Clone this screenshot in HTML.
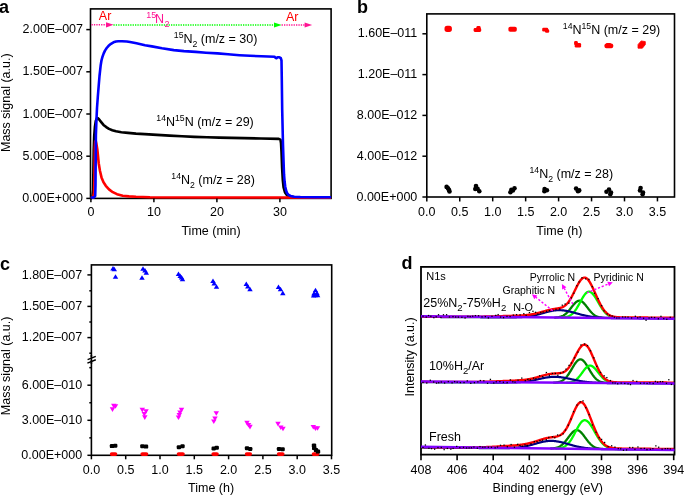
<!DOCTYPE html><html><head><meta charset="utf-8"><style>html,body{margin:0;padding:0;background:#fff;}svg{display:block;will-change:transform}</style></head><body><svg width="685" height="495" viewBox="0 0 685 495" font-family='"Liberation Sans", sans-serif'><text x="-1" y="12.9" font-size="18" text-anchor="start" fill="#000" font-weight="bold" >a</text>
<text x="357" y="12.9" font-size="18" text-anchor="start" fill="#000" font-weight="bold" >b</text>
<text x="-0.1" y="269.5" font-size="18" text-anchor="start" fill="#000" font-weight="bold" >c</text>
<text x="401.4" y="269.4" font-size="18" text-anchor="start" fill="#000" font-weight="bold" >d</text>
<defs><clipPath id="ca"><rect x="90.5" y="8.9" width="240.60000000000002" height="191.0"/></clipPath></defs>
<rect x="90.5" y="8.9" width="240.6" height="189.5" fill="none" stroke="#000" stroke-width="1.6"/>
<g clip-path="url(#ca)">
<path d="M91.2,198 L92.4,197 L93.1,190 L93.4,170 L93.7,150 L94.2,136 L94.9,127 L95.8,121 L96.7,118.6 L97.6,118 L99,119.3 L101.2,122.1 L103.5,124.9 L106.2,127.1 L109,128.9 L112.3,130.2 L116,131.3 L121.4,132.2 L128,132.9 L136,133.6 L144.8,134.1 L157,134.9 L169.6,135.6 L182,136.3 L194.4,136.9 L207,137.3 L219.3,137.6 L231.7,137.9 L244.1,138.1 L261,138.5 L278.8,138.9 L280.4,139.6 L281,143 L281.5,152 L282.1,168 L282.8,180 L283.6,187.5 L285,192.5 L287,195.2 L290,196.6 L295,197.3 L330.5,197.6" fill="none" stroke="#000" stroke-width="2.6" stroke-linejoin="round" stroke-linecap="round" />
<path d="M91.2,198 L93,197.5 L94,193 L94.4,180 L94.6,162 L94.8,148 L95.2,141.5 L95.7,140.8 L96.3,143.2 L97.3,149.1 L98,156 L98.7,163.2 L100,171 L101.5,177.4 L103.5,182.3 L105.8,185.8 L109,189.4 L112.8,192.2 L117,194.2 L122.7,195.7 L129,196.4 L136,196.8 L150,197.2 L200,197.5 L330.5,197.6" fill="none" stroke="#ff0000" stroke-width="2.6" stroke-linejoin="round" stroke-linecap="round" />
<path d="M91.2,197.6 L94,197.4 L95.2,196 L95.5,185 L95.7,160 L95.9,135 L96.4,121 L97,108 L97.8,97 L98.6,87 L99.5,76 L100.7,65.2 L101.5,60.3 L102.5,56.7 L103.7,53.4 L105,50.6 L106.7,48 L108.6,45.8 L111,43.8 L113.5,42.3 L116,41.5 L118.3,41.2 L122,41.2 L126.8,41.5 L130,42 L136.5,43.3 L145,45.2 L151.9,46.4 L162,48.3 L173.8,50.1 L184,51.1 L195.7,51.9 L206,52.7 L217.6,53.4 L228,54.3 L239.5,55.2 L250,55.8 L261.4,56.3 L268,56.5 L274.5,56.7 L275.6,57.8 L276.5,58.2 L277.6,57.3 L279.4,57.3 L280.8,58.2 L281.5,60.5 L281.8,80 L282.2,110 L283,145 L283.5,160 L284,174.2 L284.6,181.5 L285.2,186.4 L286,190.3 L287,193 L288.5,194.9 L290.6,196 L294,196.7 L300.3,197 L315,197.2 L330.5,197.3" fill="none" stroke="#0000ff" stroke-width="2.6" stroke-linejoin="round" stroke-linecap="round" />
</g>
<line x1="86.3" y1="198.4" x2="90.5" y2="198.4" stroke="#000" stroke-width="1.5" />
<text x="83" y="202" font-size="12.5" text-anchor="end" fill="#000" font-weight="normal" >0.00E+000</text>
<line x1="86.3" y1="156.2" x2="90.5" y2="156.2" stroke="#000" stroke-width="1.5" />
<text x="83" y="159.8" font-size="12.5" text-anchor="end" fill="#000" font-weight="normal" >5.00E–008</text>
<line x1="86.3" y1="114" x2="90.5" y2="114" stroke="#000" stroke-width="1.5" />
<text x="83" y="117.6" font-size="12.5" text-anchor="end" fill="#000" font-weight="normal" >1.00E–007</text>
<line x1="86.3" y1="71.8" x2="90.5" y2="71.8" stroke="#000" stroke-width="1.5" />
<text x="83" y="75.4" font-size="12.5" text-anchor="end" fill="#000" font-weight="normal" >1.50E–007</text>
<line x1="86.3" y1="29.6" x2="90.5" y2="29.6" stroke="#000" stroke-width="1.5" />
<text x="83" y="33.2" font-size="12.5" text-anchor="end" fill="#000" font-weight="normal" >2.00E–007</text>
<line x1="90.9" y1="198.4" x2="90.9" y2="202.2" stroke="#000" stroke-width="1.5" />
<text x="90.9" y="216.4" font-size="12.5" text-anchor="middle" fill="#000" font-weight="normal" >0</text>
<line x1="153.9" y1="198.4" x2="153.9" y2="202.2" stroke="#000" stroke-width="1.5" />
<text x="153.9" y="216.4" font-size="12.5" text-anchor="middle" fill="#000" font-weight="normal" >10</text>
<line x1="216.9" y1="198.4" x2="216.9" y2="202.2" stroke="#000" stroke-width="1.5" />
<text x="216.9" y="216.4" font-size="12.5" text-anchor="middle" fill="#000" font-weight="normal" >20</text>
<line x1="279.9" y1="198.4" x2="279.9" y2="202.2" stroke="#000" stroke-width="1.5" />
<text x="279.9" y="216.4" font-size="12.5" text-anchor="middle" fill="#000" font-weight="normal" >30</text>
<text x="211.1" y="235" font-size="12.5" text-anchor="middle" fill="#000" font-weight="normal" >Time (min)</text>
<text x="0" y="0" font-size="12.5" text-anchor="middle" fill="#000" font-weight="normal" transform="translate(10.3,102.7) rotate(-90)">Mass signal (a.u.)</text>
<line x1="91.5" y1="24.8" x2="106.5" y2="24.8" stroke="#ff1493" stroke-width="1.5" stroke-dasharray="1.3 1.1"/>
<path d="M106.0,22.2 L113.6,24.8 L106.0,27.4 Z" fill="#ff1493"/>
<line x1="113.4" y1="24.9" x2="274.3" y2="24.9" stroke="#00ff00" stroke-width="1.5" stroke-dasharray="1.3 1.1"/>
<path d="M274.0,22.4 L281.8,25.0 L274.0,27.6 Z" fill="#00ff00"/>
<line x1="281.6" y1="25" x2="304.8" y2="25" stroke="#ff1493" stroke-width="1.5" stroke-dasharray="1.3 1.1"/>
<path d="M304.6,22.4 L312.2,25.0 L304.6,27.6 Z" fill="#ff1493"/>
<text x="98.8" y="20.3" font-size="12.5" text-anchor="start" fill="#ff0000" font-weight="normal" >Ar</text>
<text x="286" y="20.8" font-size="12.5" text-anchor="start" fill="#ff0000" font-weight="normal" >Ar</text>
<text x="146.2" y="17.9" font-size="9" text-anchor="start" fill="#ff1493" font-weight="normal" >15</text>
<text x="155" y="23.2" font-size="12.5" text-anchor="start" fill="#ff1493" font-weight="normal" >N</text>
<text x="164.4" y="26.9" font-size="9" text-anchor="start" fill="#ff1493" font-weight="normal" >2</text>
<text x="173.8" y="42.9" font-size="12.5" fill="#000"><tspan font-size="8.7" dy="-5.1">15</tspan><tspan font-size="12.5" dy="5.1">N</tspan><tspan font-size="8.7" dy="3.7">2</tspan><tspan font-size="12.5" dy="-3.7"> (m/z = 30)</tspan></text>
<text x="156.3" y="125.9" font-size="12.5" fill="#000"><tspan font-size="8.7" dy="-5.1">14</tspan><tspan font-size="12.5" dy="5.1">N</tspan><tspan font-size="8.7" dy="-5.1">15</tspan><tspan font-size="12.5" dy="5.1">N (m/z = 29)</tspan></text>
<text x="171.3" y="184" font-size="12.5" fill="#000"><tspan font-size="8.7" dy="-5.1">14</tspan><tspan font-size="12.5" dy="5.1">N</tspan><tspan font-size="8.7" dy="3.7">2</tspan><tspan font-size="12.5" dy="-3.7"> (m/z = 28)</tspan></text>
<rect x="426.8" y="13.9" width="247.7" height="183.1" fill="none" stroke="#000" stroke-width="1.6"/>
<line x1="422.4" y1="197" x2="426.8" y2="197" stroke="#000" stroke-width="1.5" />
<text x="417.3" y="200.6" font-size="12.5" text-anchor="end" fill="#000" font-weight="normal" >0.00E+000</text>
<line x1="422.4" y1="156.2" x2="426.8" y2="156.2" stroke="#000" stroke-width="1.5" />
<text x="417.3" y="159.8" font-size="12.5" text-anchor="end" fill="#000" font-weight="normal" >4.00E–012</text>
<line x1="422.4" y1="115.4" x2="426.8" y2="115.4" stroke="#000" stroke-width="1.5" />
<text x="417.3" y="119" font-size="12.5" text-anchor="end" fill="#000" font-weight="normal" >8.00E–012</text>
<line x1="422.4" y1="74.6" x2="426.8" y2="74.6" stroke="#000" stroke-width="1.5" />
<text x="417.3" y="78.2" font-size="12.5" text-anchor="end" fill="#000" font-weight="normal" >1.20E–011</text>
<line x1="422.4" y1="33.8" x2="426.8" y2="33.8" stroke="#000" stroke-width="1.5" />
<text x="417.3" y="37.4" font-size="12.5" text-anchor="end" fill="#000" font-weight="normal" >1.60E–011</text>
<line x1="426.8" y1="197" x2="426.8" y2="201.4" stroke="#000" stroke-width="1.5" />
<text x="426.8" y="216.1" font-size="12.5" text-anchor="middle" fill="#000" font-weight="normal" >0.0</text>
<line x1="459.75" y1="197" x2="459.75" y2="201.4" stroke="#000" stroke-width="1.5" />
<text x="459.75" y="216.1" font-size="12.5" text-anchor="middle" fill="#000" font-weight="normal" >0.5</text>
<line x1="492.7" y1="197" x2="492.7" y2="201.4" stroke="#000" stroke-width="1.5" />
<text x="492.7" y="216.1" font-size="12.5" text-anchor="middle" fill="#000" font-weight="normal" >1.0</text>
<line x1="525.65" y1="197" x2="525.65" y2="201.4" stroke="#000" stroke-width="1.5" />
<text x="525.65" y="216.1" font-size="12.5" text-anchor="middle" fill="#000" font-weight="normal" >1.5</text>
<line x1="558.6" y1="197" x2="558.6" y2="201.4" stroke="#000" stroke-width="1.5" />
<text x="558.6" y="216.1" font-size="12.5" text-anchor="middle" fill="#000" font-weight="normal" >2.0</text>
<line x1="591.55" y1="197" x2="591.55" y2="201.4" stroke="#000" stroke-width="1.5" />
<text x="591.55" y="216.1" font-size="12.5" text-anchor="middle" fill="#000" font-weight="normal" >2.5</text>
<line x1="624.5" y1="197" x2="624.5" y2="201.4" stroke="#000" stroke-width="1.5" />
<text x="624.5" y="216.1" font-size="12.5" text-anchor="middle" fill="#000" font-weight="normal" >3.0</text>
<line x1="657.45" y1="197" x2="657.45" y2="201.4" stroke="#000" stroke-width="1.5" />
<text x="657.45" y="216.1" font-size="12.5" text-anchor="middle" fill="#000" font-weight="normal" >3.5</text>
<text x="559.4" y="234.7" font-size="12.5" text-anchor="middle" fill="#000" font-weight="normal" >Time (h)</text>
<rect x="444.5" y="25.8" width="7.4" height="6.1" rx="2.6" ry="2.6" fill="#ff0000"/>
<rect x="473.6" y="28.1" width="7.6" height="3.8" rx="1.3" ry="1.3" fill="#ff0000"/>
<rect x="476.4" y="25.9" width="4.2" height="3.6" rx="1.3" ry="1.3" fill="#ff0000"/>
<rect x="508.4" y="26.8" width="8.4" height="5" rx="1.8" ry="1.8" fill="#ff0000"/>
<rect x="542.2" y="27.8" width="6" height="3.8" rx="1.3" ry="1.3" fill="#ff0000"/>
<rect x="545" y="29.2" width="4.2" height="3.6" rx="1.3" ry="1.3" fill="#ff0000"/>
<rect x="574.1" y="40.9" width="3.7" height="4.1" rx="1.3" ry="1.3" fill="#ff0000"/>
<rect x="574.7" y="43" width="6.4" height="4.6" rx="1.3" ry="1.3" fill="#ff0000"/>
<rect x="604.5" y="43.4" width="8.7" height="4.8" rx="1.8" ry="1.8" fill="#ff0000"/>
<rect x="606" y="43" width="5" height="2" rx="1.0" ry="1.0" fill="#ff0000"/>
<path d="M641.2,40.9 L645.3,41.6 L645.3,44.6 L642.4,48.2 L638.0,48.2 L638.0,44.6 Z" fill="#ff0000" stroke="#ff0000" stroke-width="0.8" stroke-linejoin="round"/>
<circle cx="446.6" cy="186.9" r="2.3" fill="#000"/>
<circle cx="448" cy="188.2" r="2.3" fill="#000"/>
<circle cx="448.9" cy="189.9" r="2.3" fill="#000"/>
<circle cx="449.5" cy="191.4" r="2.3" fill="#000"/>
<circle cx="476" cy="186.1" r="2.3" fill="#000"/>
<circle cx="475.3" cy="189" r="2.3" fill="#000"/>
<circle cx="477.6" cy="188.7" r="2.3" fill="#000"/>
<circle cx="479.3" cy="191.3" r="2.3" fill="#000"/>
<circle cx="510.4" cy="192.2" r="2.3" fill="#000"/>
<circle cx="511.4" cy="189.7" r="2.3" fill="#000"/>
<circle cx="514.5" cy="188.3" r="2.3" fill="#000"/>
<circle cx="512.9" cy="190.4" r="2.3" fill="#000"/>
<circle cx="544.6" cy="189" r="2.3" fill="#000"/>
<circle cx="546.9" cy="190.3" r="2.3" fill="#000"/>
<circle cx="544.4" cy="191.3" r="2.3" fill="#000"/>
<circle cx="576.1" cy="188.6" r="2.3" fill="#000"/>
<circle cx="578" cy="191.3" r="2.3" fill="#000"/>
<circle cx="579.2" cy="190.4" r="2.3" fill="#000"/>
<circle cx="609" cy="189.5" r="2.3" fill="#000"/>
<circle cx="606.5" cy="191.8" r="2.3" fill="#000"/>
<circle cx="611" cy="192.5" r="2.3" fill="#000"/>
<circle cx="610.3" cy="194.2" r="2.3" fill="#000"/>
<circle cx="640.6" cy="188.1" r="2.3" fill="#000"/>
<circle cx="640" cy="190.5" r="2.3" fill="#000"/>
<circle cx="643" cy="192.5" r="2.3" fill="#000"/>
<circle cx="642.6" cy="194.3" r="2.3" fill="#000"/>
<text x="562.8" y="33.9" font-size="12.5" fill="#000"><tspan font-size="8.7" dy="-5.1">14</tspan><tspan font-size="12.5" dy="5.1">N</tspan><tspan font-size="8.7" dy="-5.1">15</tspan><tspan font-size="12.5" dy="5.1">N (m/z = 29)</tspan></text>
<text x="529.5" y="178.1" font-size="12.5" fill="#000"><tspan font-size="8.7" dy="-5.1">14</tspan><tspan font-size="12.5" dy="5.1">N</tspan><tspan font-size="8.7" dy="3.7">2</tspan><tspan font-size="12.5" dy="-3.7"> (m/z = 28)</tspan></text>
<rect x="91.4" y="264.9" width="240.3" height="190.4" fill="none" stroke="#000" stroke-width="1.6"/>
<line x1="87.4" y1="274.9" x2="91.4" y2="274.9" stroke="#000" stroke-width="1.5" />
<text x="82.2" y="278.5" font-size="12.5" text-anchor="end" fill="#000" font-weight="normal" >1.80E–007</text>
<line x1="87.4" y1="306.4" x2="91.4" y2="306.4" stroke="#000" stroke-width="1.5" />
<text x="82.2" y="310" font-size="12.5" text-anchor="end" fill="#000" font-weight="normal" >1.50E–007</text>
<line x1="87.4" y1="337.6" x2="91.4" y2="337.6" stroke="#000" stroke-width="1.5" />
<text x="82.2" y="341.2" font-size="12.5" text-anchor="end" fill="#000" font-weight="normal" >1.20E–007</text>
<line x1="87.4" y1="385.2" x2="91.4" y2="385.2" stroke="#000" stroke-width="1.5" />
<text x="82.2" y="388.8" font-size="12.5" text-anchor="end" fill="#000" font-weight="normal" >6.00E–010</text>
<line x1="87.4" y1="420.3" x2="91.4" y2="420.3" stroke="#000" stroke-width="1.5" />
<text x="82.2" y="423.9" font-size="12.5" text-anchor="end" fill="#000" font-weight="normal" >3.00E–010</text>
<line x1="87.4" y1="455.3" x2="91.4" y2="455.3" stroke="#000" stroke-width="1.5" />
<text x="82.2" y="458.9" font-size="12.5" text-anchor="end" fill="#000" font-weight="normal" >0.00E+000</text>
<line x1="89.3" y1="290.8" x2="91.4" y2="290.8" stroke="#000" stroke-width="1.5" />
<line x1="89.3" y1="322" x2="91.4" y2="322" stroke="#000" stroke-width="1.5" />
<line x1="89.3" y1="353.2" x2="91.4" y2="353.2" stroke="#000" stroke-width="1.5" />
<line x1="89.3" y1="367.65" x2="91.4" y2="367.65" stroke="#000" stroke-width="1.5" />
<line x1="89.3" y1="402.75" x2="91.4" y2="402.75" stroke="#000" stroke-width="1.5" />
<line x1="89.3" y1="437.85" x2="91.4" y2="437.85" stroke="#000" stroke-width="1.5" />
<rect x="86" y="357.2" width="11" height="3.2" fill="#fff"/>
<line x1="87.6" y1="359.6" x2="95.8" y2="356.4" stroke="#000" stroke-width="1.5" />
<line x1="87.4" y1="363.1" x2="95.8" y2="359.8" stroke="#000" stroke-width="1.5" />
<line x1="91.4" y1="355" x2="91.4" y2="364" stroke="#000" stroke-width="1.6" />
<line x1="91.4" y1="455.3" x2="91.4" y2="459.3" stroke="#000" stroke-width="1.5" />
<text x="91.4" y="473.5" font-size="12.5" text-anchor="middle" fill="#000" font-weight="normal" >0.0</text>
<line x1="125.7" y1="455.3" x2="125.7" y2="459.3" stroke="#000" stroke-width="1.5" />
<text x="125.7" y="473.5" font-size="12.5" text-anchor="middle" fill="#000" font-weight="normal" >0.5</text>
<line x1="160" y1="455.3" x2="160" y2="459.3" stroke="#000" stroke-width="1.5" />
<text x="160" y="473.5" font-size="12.5" text-anchor="middle" fill="#000" font-weight="normal" >1.0</text>
<line x1="194.3" y1="455.3" x2="194.3" y2="459.3" stroke="#000" stroke-width="1.5" />
<text x="194.3" y="473.5" font-size="12.5" text-anchor="middle" fill="#000" font-weight="normal" >1.5</text>
<line x1="228.6" y1="455.3" x2="228.6" y2="459.3" stroke="#000" stroke-width="1.5" />
<text x="228.6" y="473.5" font-size="12.5" text-anchor="middle" fill="#000" font-weight="normal" >2.0</text>
<line x1="262.9" y1="455.3" x2="262.9" y2="459.3" stroke="#000" stroke-width="1.5" />
<text x="262.9" y="473.5" font-size="12.5" text-anchor="middle" fill="#000" font-weight="normal" >2.5</text>
<line x1="297.2" y1="455.3" x2="297.2" y2="459.3" stroke="#000" stroke-width="1.5" />
<text x="297.2" y="473.5" font-size="12.5" text-anchor="middle" fill="#000" font-weight="normal" >3.0</text>
<line x1="331.5" y1="455.3" x2="331.5" y2="459.3" stroke="#000" stroke-width="1.5" />
<text x="331.5" y="473.5" font-size="12.5" text-anchor="middle" fill="#000" font-weight="normal" >3.5</text>
<text x="211.1" y="492.1" font-size="12.5" text-anchor="middle" fill="#000" font-weight="normal" >Time (h)</text>
<text x="0" y="0" font-size="12.5" text-anchor="middle" fill="#000" font-weight="normal" transform="translate(10.3,365.9) rotate(-90)">Mass signal (a.u.)</text>
<path d="M113,266 L115.73,270.55 L110.27,270.55 Z" fill="#0000ff"/>
<path d="M114.3,266.8 L117.03,271.35 L111.57,271.35 Z" fill="#0000ff"/>
<path d="M115.5,274.2 L118.23,278.75 L112.77,278.75 Z" fill="#0000ff"/>
<path d="M143,266.2 L145.73,270.75 L140.27,270.75 Z" fill="#0000ff"/>
<path d="M145,267.9 L147.73,272.45 L142.27,272.45 Z" fill="#0000ff"/>
<path d="M146.3,270.2 L149.03,274.75 L143.57,274.75 Z" fill="#0000ff"/>
<path d="M142,275.3 L144.73,279.85 L139.27,279.85 Z" fill="#0000ff"/>
<path d="M178.5,271.4 L181.23,275.95 L175.77,275.95 Z" fill="#0000ff"/>
<path d="M180.2,273.4 L182.93,277.95 L177.47,277.95 Z" fill="#0000ff"/>
<path d="M181.5,275 L184.23,279.55 L178.77,279.55 Z" fill="#0000ff"/>
<path d="M182.5,276.6 L185.23,281.15 L179.77,281.15 Z" fill="#0000ff"/>
<path d="M213,278.4 L215.73,282.95 L210.27,282.95 Z" fill="#0000ff"/>
<path d="M214.2,280.9 L216.93,285.45 L211.47,285.45 Z" fill="#0000ff"/>
<path d="M216.5,284.2 L219.23,288.75 L213.77,288.75 Z" fill="#0000ff"/>
<path d="M246.3,281.4 L249.03,285.95 L243.57,285.95 Z" fill="#0000ff"/>
<path d="M247.8,283.9 L250.53,288.45 L245.07,288.45 Z" fill="#0000ff"/>
<path d="M250,286.7 L252.73,291.25 L247.27,291.25 Z" fill="#0000ff"/>
<path d="M278.5,284.4 L281.23,288.95 L275.77,288.95 Z" fill="#0000ff"/>
<path d="M280.5,286.7 L283.23,291.25 L277.77,291.25 Z" fill="#0000ff"/>
<path d="M282.8,290.6 L285.53,295.15 L280.07,295.15 Z" fill="#0000ff"/>
<path d="M315.5,287.8 L318.23,292.35 L312.77,292.35 Z" fill="#0000ff"/>
<path d="M314,291 L316.73,295.55 L311.27,295.55 Z" fill="#0000ff"/>
<path d="M317,290.8 L319.73,295.35 L314.27,295.35 Z" fill="#0000ff"/>
<path d="M315.3,292.7 L318.03,297.25 L312.57,297.25 Z" fill="#0000ff"/>
<path d="M313.6,293 L316.33,297.55 L310.87,297.55 Z" fill="#0000ff"/>
<path d="M317.6,292.8 L320.33,297.35 L314.87,297.35 Z" fill="#0000ff"/>
<path d="M113.8,408.4 L116.53,403.85 L111.07,403.85 Z" fill="#ff00ff"/>
<path d="M115.5,408.8 L118.23,404.25 L112.77,404.25 Z" fill="#ff00ff"/>
<path d="M112.5,411.9 L115.23,407.35 L109.77,407.35 Z" fill="#ff00ff"/>
<path d="M142.3,412.4 L145.03,407.85 L139.57,407.85 Z" fill="#ff00ff"/>
<path d="M146,413.8 L148.73,409.25 L143.27,409.25 Z" fill="#ff00ff"/>
<path d="M144.3,416.6 L147.03,412.05 L141.57,412.05 Z" fill="#ff00ff"/>
<path d="M144.8,419.9 L147.53,415.35 L142.07,415.35 Z" fill="#ff00ff"/>
<path d="M181.5,412.4 L184.23,407.85 L178.77,407.85 Z" fill="#ff00ff"/>
<path d="M180,415.1 L182.73,410.55 L177.27,410.55 Z" fill="#ff00ff"/>
<path d="M179.3,417.6 L182.03,413.05 L176.57,413.05 Z" fill="#ff00ff"/>
<path d="M178.5,420.1 L181.23,415.55 L175.77,415.55 Z" fill="#ff00ff"/>
<path d="M216.3,415.8 L219.03,411.25 L213.57,411.25 Z" fill="#ff00ff"/>
<path d="M215,421.1 L217.73,416.55 L212.27,416.55 Z" fill="#ff00ff"/>
<path d="M213.8,424.1 L216.53,419.55 L211.07,419.55 Z" fill="#ff00ff"/>
<path d="M247,425.4 L249.73,420.85 L244.27,420.85 Z" fill="#ff00ff"/>
<path d="M248.5,427.6 L251.23,423.05 L245.77,423.05 Z" fill="#ff00ff"/>
<path d="M250,429.4 L252.73,424.85 L247.27,424.85 Z" fill="#ff00ff"/>
<path d="M278,426.4 L280.73,421.85 L275.27,421.85 Z" fill="#ff00ff"/>
<path d="M280.8,430.1 L283.53,425.55 L278.07,425.55 Z" fill="#ff00ff"/>
<path d="M283,431.3 L285.73,426.75 L280.27,426.75 Z" fill="#ff00ff"/>
<path d="M313.3,429.6 L316.03,425.05 L310.57,425.05 Z" fill="#ff00ff"/>
<path d="M315.5,431.1 L318.23,426.55 L312.77,426.55 Z" fill="#ff00ff"/>
<path d="M317.5,430.8 L320.23,426.25 L314.77,426.25 Z" fill="#ff00ff"/>
<rect x="109.8" y="452.2" width="7.5" height="3.8" rx="1.9" ry="1.9" fill="#ff0000"/>
<rect x="140.4" y="452.2" width="7.9" height="3.8" rx="1.9" ry="1.9" fill="#ff0000"/>
<rect x="176.7" y="452.2" width="8.1" height="3.8" rx="1.9" ry="1.9" fill="#ff0000"/>
<rect x="211.4" y="452.2" width="7.4" height="3.8" rx="1.9" ry="1.9" fill="#ff0000"/>
<rect x="244.8" y="452.2" width="7.3" height="3.8" rx="1.9" ry="1.9" fill="#ff0000"/>
<rect x="276.8" y="452.2" width="7.8" height="3.8" rx="1.9" ry="1.9" fill="#ff0000"/>
<rect x="311.7" y="452.2" width="7.7" height="3.8" rx="1.9" ry="1.9" fill="#ff0000"/>
<rect x="109.8" y="444.1" width="4.4" height="4" rx="1.2" fill="#000"/>
<rect x="113" y="443.7" width="4.4" height="4" rx="1.2" fill="#000"/>
<rect x="140.2" y="444.2" width="4.4" height="4" rx="1.2" fill="#000"/>
<rect x="143.8" y="444.6" width="4.4" height="4" rx="1.2" fill="#000"/>
<rect x="176.7" y="445.2" width="4.4" height="4" rx="1.2" fill="#000"/>
<rect x="180.3" y="444.2" width="4.4" height="4" rx="1.2" fill="#000"/>
<rect x="211.5" y="446.5" width="4.4" height="4" rx="1.2" fill="#000"/>
<rect x="214.5" y="445.7" width="4.4" height="4" rx="1.2" fill="#000"/>
<rect x="244.8" y="446.3" width="4.4" height="4" rx="1.2" fill="#000"/>
<rect x="248" y="447" width="4.4" height="4" rx="1.2" fill="#000"/>
<rect x="276.8" y="447" width="4.4" height="4" rx="1.2" fill="#000"/>
<rect x="280.4" y="447.3" width="4.4" height="4" rx="1.2" fill="#000"/>
<rect x="311.8" y="443.4" width="4.4" height="4" rx="1.2" fill="#000"/>
<rect x="312" y="446.1" width="4.4" height="4" rx="1.2" fill="#000"/>
<rect x="313.8" y="448.1" width="4.4" height="4" rx="1.2" fill="#000"/>
<rect x="315.8" y="449.6" width="4.4" height="4" rx="1.2" fill="#000"/>
<defs><clipPath id="cd"><rect x="422" y="267.5" width="252" height="186.5"/></clipPath></defs>
<g clip-path="url(#cd)">
<path d="M555,317.58 L555.5,317.55 L556,317.51 L556.5,317.47 L557,317.42 L557.5,317.36 L558,317.28 L558.5,317.2 L559,317.1 L559.5,316.99 L560,316.87 L560.5,316.72 L561,316.56 L561.5,316.38 L562,316.17 L562.5,315.95 L563,315.69 L563.5,315.41 L564,315.11 L564.5,314.77 L565,314.41 L565.5,314.01 L566,313.59 L566.5,313.13 L567,312.65 L567.5,312.14 L568,311.6 L568.5,311.03 L569,310.45 L569.5,309.84 L570,309.22 L570.5,308.58 L571,307.94 L571.5,307.29 L572,306.64 L572.5,306 L573,305.37 L573.5,304.76 L574,304.17 L574.5,303.61 L575,303.09 L575.5,302.6 L576,302.16 L576.5,301.78 L577,301.44 L577.5,301.17 L578,300.95 L578.5,300.8 L579,300.72 L579.5,300.7 L580,300.75 L580.5,300.87 L581,301.05 L581.5,301.3 L582,301.6 L582.5,301.96 L583,302.38 L583.5,302.84 L584,303.35 L584.5,303.89 L585,304.47 L585.5,305.08 L586,305.7 L586.5,306.34 L587,306.99 L587.5,307.65 L588,308.3 L588.5,308.95 L589,309.59 L589.5,310.21 L590,310.82 L590.5,311.4 L591,311.96 L591.5,312.5 L592,313 L592.5,313.48 L593,313.93 L593.5,314.35 L594,314.74 L594.5,315.1 L595,315.43 L595.5,315.73 L596,316.01 L596.5,316.26 L597,316.48 L597.5,316.68 L598,316.86 L598.5,317.03 L599,317.17 L599.5,317.29 L600,317.41 L600.5,317.5 L601,317.59 L601.5,317.66 L602,317.72 L602.5,317.78 L603,317.83 L603.5,317.87 L604,317.9" fill="none" stroke="#008000" stroke-width="2.3" stroke-linejoin="round" stroke-linecap="round" />
<path d="M561.5,317.62 L562,317.59 L562.5,317.56 L563,317.51 L563.5,317.46 L564,317.4 L564.5,317.34 L565,317.26 L565.5,317.16 L566,317.06 L566.5,316.93 L567,316.79 L567.5,316.64 L568,316.46 L568.5,316.25 L569,316.03 L569.5,315.77 L570,315.49 L570.5,315.18 L571,314.83 L571.5,314.45 L572,314.04 L572.5,313.59 L573,313.1 L573.5,312.57 L574,312 L574.5,311.4 L575,310.75 L575.5,310.06 L576,309.34 L576.5,308.58 L577,307.79 L577.5,306.96 L578,306.11 L578.5,305.24 L579,304.34 L579.5,303.43 L580,302.51 L580.5,301.58 L581,300.66 L581.5,299.75 L582,298.85 L582.5,297.98 L583,297.14 L583.5,296.33 L584,295.57 L584.5,294.86 L585,294.21 L585.5,293.62 L586,293.09 L586.5,292.65 L587,292.28 L587.5,292 L588,291.8 L588.5,291.69 L589,291.66 L589.5,291.72 L590,291.85 L590.5,292.06 L591,292.35 L591.5,292.71 L592,293.13 L592.5,293.62 L593,294.17 L593.5,294.78 L594,295.44 L594.5,296.14 L595,296.89 L595.5,297.67 L596,298.48 L596.5,299.31 L597,300.16 L597.5,301.02 L598,301.89 L598.5,302.76 L599,303.63 L599.5,304.48 L600,305.33 L600.5,306.16 L601,306.96 L601.5,307.74 L602,308.5 L602.5,309.23 L603,309.92 L603.5,310.59 L604,311.22 L604.5,311.81 L605,312.37 L605.5,312.9 L606,313.39 L606.5,313.85 L607,314.28 L607.5,314.67 L608,315.03 L608.5,315.36 L609,315.67 L609.5,315.95 L610,316.2 L610.5,316.43 L611,316.63 L611.5,316.82 L612,316.98 L612.5,317.13 L613,317.26 L613.5,317.38 L614,317.48 L614.5,317.57 L615,317.65 L615.5,317.73 L616,317.79 L616.5,317.84 L617,317.89 L617.5,317.93 L618,317.97" fill="none" stroke="#00ff00" stroke-width="2.3" stroke-linejoin="round" stroke-linecap="round" />
<path d="M421,316.9 L421.5,316.9 L422,316.91 L422.5,316.91 L423,316.91 L423.5,316.92 L424,316.92 L424.5,316.92 L425,316.93 L425.5,316.93 L426,316.93 L426.5,316.93 L427,316.94 L427.5,316.94 L428,316.94 L428.5,316.95 L429,316.95 L429.5,316.95 L430,316.96 L430.5,316.96 L431,316.96 L431.5,316.97 L432,316.97 L432.5,316.97 L433,316.98 L433.5,316.98 L434,316.98 L434.5,316.99 L435,316.99 L435.5,316.99 L436,316.99 L436.5,317 L437,317 L437.5,317 L438,317.01 L438.5,317.01 L439,317.01 L439.5,317.02 L440,317.02 L440.5,317.02 L441,317.03 L441.5,317.03 L442,317.03 L442.5,317.04 L443,317.04 L443.5,317.04 L444,317.05 L444.5,317.05 L445,317.05 L445.5,317.05 L446,317.06 L446.5,317.06 L447,317.06 L447.5,317.07 L448,317.07 L448.5,317.07 L449,317.08 L449.5,317.08 L450,317.08 L450.5,317.09 L451,317.09 L451.5,317.09 L452,317.1 L452.5,317.1 L453,317.1 L453.5,317.11 L454,317.11 L454.5,317.11 L455,317.11 L455.5,317.12 L456,317.12 L456.5,317.12 L457,317.13 L457.5,317.13 L458,317.13 L458.5,317.14 L459,317.14 L459.5,317.14 L460,317.15 L460.5,317.15 L461,317.15 L461.5,317.16 L462,317.16 L462.5,317.16 L463,317.17 L463.5,317.17 L464,317.17 L464.5,317.17 L465,317.18 L465.5,317.18 L466,317.18 L466.5,317.19 L467,317.19 L467.5,317.19 L468,317.2 L468.5,317.2 L469,317.2 L469.5,317.21 L470,317.21 L470.5,317.21 L471,317.22 L471.5,317.22 L472,317.22 L472.5,317.23 L473,317.23 L473.5,317.23 L474,317.23 L474.5,317.24 L475,317.24 L475.5,317.24 L476,317.25 L476.5,317.25 L477,317.25 L477.5,317.26 L478,317.26 L478.5,317.26 L479,317.27 L479.5,317.27 L480,317.27 L480.5,317.28 L481,317.28 L481.5,317.28 L482,317.28 L482.5,317.29 L483,317.29 L483.5,317.29 L484,317.3 L484.5,317.3 L485,317.3 L485.5,317.31 L486,317.31 L486.5,317.31 L487,317.32 L487.5,317.32 L488,317.32 L488.5,317.33 L489,317.33 L489.5,317.33 L490,317.33 L490.5,317.34 L491,317.34 L491.5,317.34 L492,317.35 L492.5,317.35 L493,317.35 L493.5,317.36 L494,317.36 L494.5,317.36 L495,317.36 L495.5,317.37 L496,317.37 L496.5,317.37 L497,317.38 L497.5,317.38 L498,317.38 L498.5,317.38 L499,317.39 L499.5,317.39 L500,317.39 L500.5,317.39 L501,317.39 L501.5,317.4 L502,317.4 L502.5,317.4 L503,317.4 L503.5,317.4 L504,317.4 L504.5,317.41 L505,317.41 L505.5,317.41 L506,317.41 L506.5,317.41 L507,317.41 L507.5,317.4 L508,317.4 L508.5,317.4 L509,317.4 L509.5,317.4 L510,317.39 L510.5,317.39 L511,317.39 L511.5,317.38 L512,317.38 L512.5,317.37 L513,317.36 L513.5,317.36 L514,317.35 L514.5,317.34 L515,317.33 L515.5,317.31 L516,317.3 L516.5,317.29 L517,317.27 L517.5,317.25 L518,317.24 L518.5,317.22 L519,317.19 L519.5,317.17 L520,317.15 L520.5,317.12 L521,317.09 L521.5,317.06 L522,317.03 L522.5,316.99 L523,316.96 L523.5,316.92 L524,316.87 L524.5,316.83 L525,316.78 L525.5,316.73 L526,316.68 L526.5,316.62 L527,316.57 L527.5,316.5 L528,316.44 L528.5,316.37 L529,316.3 L529.5,316.23 L530,316.15 L530.5,316.07 L531,315.99 L531.5,315.9 L532,315.81 L532.5,315.72 L533,315.62 L533.5,315.52 L534,315.41 L534.5,315.31 L535,315.2 L535.5,315.09 L536,314.97 L536.5,314.85 L537,314.73 L537.5,314.61 L538,314.48 L538.5,314.35 L539,314.22 L539.5,314.09 L540,313.95 L540.5,313.82 L541,313.68 L541.5,313.54 L542,313.4 L542.5,313.26 L543,313.12 L543.5,312.98 L544,312.84 L544.5,312.7 L545,312.56 L545.5,312.42 L546,312.28 L546.5,312.15 L547,312.01 L547.5,311.88 L548,311.75 L548.5,311.63 L549,311.51 L549.5,311.39 L550,311.27 L550.5,311.16 L551,311.06 L551.5,310.95 L552,310.86 L552.5,310.77 L553,310.68 L553.5,310.6 L554,310.53 L554.5,310.46 L555,310.4 L555.5,310.35 L556,310.3 L556.5,310.26 L557,310.23 L557.5,310.2 L558,310.19 L558.5,310.18 L559,310.17 L559.5,310.18 L560,310.19 L560.5,310.2 L561,310.23 L561.5,310.26 L562,310.29 L562.5,310.33 L563,310.38 L563.5,310.44 L564,310.5 L564.5,310.57 L565,310.64 L565.5,310.72 L566,310.8 L566.5,310.89 L567,310.98 L567.5,311.08 L568,311.18 L568.5,311.29 L569,311.4 L569.5,311.51 L570,311.63 L570.5,311.75 L571,311.87 L571.5,312 L572,312.13 L572.5,312.26 L573,312.39 L573.5,312.53 L574,312.66 L574.5,312.8 L575,312.94 L575.5,313.08 L576,313.21 L576.5,313.35 L577,313.49 L577.5,313.63 L578,313.77 L578.5,313.9 L579,314.04 L579.5,314.17 L580,314.31 L580.5,314.44 L581,314.57 L581.5,314.7 L582,314.82 L582.5,314.95 L583,315.07 L583.5,315.19 L584,315.31 L584.5,315.42 L585,315.53 L585.5,315.64 L586,315.75 L586.5,315.85 L587,315.95 L587.5,316.05 L588,316.14 L588.5,316.24 L589,316.33 L589.5,316.41 L590,316.49 L590.5,316.57 L591,316.65 L591.5,316.73 L592,316.8 L592.5,316.87 L593,316.93 L593.5,317 L594,317.06 L594.5,317.11 L595,317.17 L595.5,317.22 L596,317.27 L596.5,317.32 L597,317.37 L597.5,317.41 L598,317.46 L598.5,317.5 L599,317.53 L599.5,317.57 L600,317.6 L600.5,317.64 L601,317.67 L601.5,317.7 L602,317.72 L602.5,317.75 L603,317.77 L603.5,317.8 L604,317.82 L604.5,317.84 L605,317.86 L605.5,317.88 L606,317.9 L606.5,317.91 L607,317.93 L607.5,317.94 L608,317.96 L608.5,317.97 L609,317.98 L609.5,317.99 L610,318.01 L610.5,318.02 L611,318.03 L611.5,318.04 L612,318.04 L612.5,318.05 L613,318.06 L613.5,318.07 L614,318.08 L614.5,318.08 L615,318.09 L615.5,318.1 L616,318.1 L616.5,318.11 L617,318.11 L617.5,318.12 L618,318.12 L618.5,318.13 L619,318.13 L619.5,318.14 L620,318.14 L620.5,318.15 L621,318.15 L621.5,318.16 L622,318.16 L622.5,318.16 L623,318.17 L623.5,318.17 L624,318.18 L624.5,318.18 L625,318.18 L625.5,318.19 L626,318.19 L626.5,318.19 L627,318.2 L627.5,318.2 L628,318.2 L628.5,318.21 L629,318.21 L629.5,318.21 L630,318.22 L630.5,318.22 L631,318.22 L631.5,318.23 L632,318.23 L632.5,318.23 L633,318.24 L633.5,318.24 L634,318.24 L634.5,318.25 L635,318.25 L635.5,318.25 L636,318.26 L636.5,318.26 L637,318.26 L637.5,318.27 L638,318.27 L638.5,318.27 L639,318.28 L639.5,318.28 L640,318.28 L640.5,318.29 L641,318.29 L641.5,318.29 L642,318.29 L642.5,318.3 L643,318.3 L643.5,318.3 L644,318.31 L644.5,318.31 L645,318.31 L645.5,318.32 L646,318.32 L646.5,318.32 L647,318.33 L647.5,318.33 L648,318.33 L648.5,318.34 L649,318.34 L649.5,318.34 L650,318.35 L650.5,318.35 L651,318.35 L651.5,318.35 L652,318.36 L652.5,318.36 L653,318.36 L653.5,318.37 L654,318.37 L654.5,318.37 L655,318.38 L655.5,318.38 L656,318.38 L656.5,318.39 L657,318.39 L657.5,318.39 L658,318.4 L658.5,318.4 L659,318.4 L659.5,318.41 L660,318.41 L660.5,318.41 L661,318.41 L661.5,318.42 L662,318.42 L662.5,318.42 L663,318.43 L663.5,318.43 L664,318.43 L664.5,318.44 L665,318.44 L665.5,318.44 L666,318.45 L666.5,318.45 L667,318.45 L667.5,318.46 L668,318.46 L668.5,318.46 L669,318.47 L669.5,318.47 L670,318.47 L670.5,318.47 L671,318.48 L671.5,318.48 L672,318.48 L672.5,318.49 L673,318.49 L673.5,318.49 L674,318.5 L674.5,318.5" fill="none" stroke="#000080" stroke-width="2.2" stroke-linejoin="round" stroke-linecap="round" />
<path d="M421,316.5 L421.5,316.5 L422,316.5 L422.5,316.51 L423,316.51 L423.5,316.51 L424,316.51 L424.5,316.52 L425,316.52 L425.5,316.52 L426,316.52 L426.5,316.53 L427,316.53 L427.5,316.53 L428,316.53 L428.5,316.54 L429,316.54 L429.5,316.54 L430,316.54 L430.5,316.54 L431,316.55 L431.5,316.55 L432,316.55 L432.5,316.55 L433,316.56 L433.5,316.56 L434,316.56 L434.5,316.56 L435,316.57 L435.5,316.57 L436,316.57 L436.5,316.57 L437,316.58 L437.5,316.58 L438,316.58 L438.5,316.58 L439,316.59 L439.5,316.59 L440,316.59 L440.5,316.59 L441,316.59 L441.5,316.6 L442,316.6 L442.5,316.6 L443,316.6 L443.5,316.61 L444,316.61 L444.5,316.61 L445,316.61 L445.5,316.62 L446,316.62 L446.5,316.62 L447,316.62 L447.5,316.62 L448,316.63 L448.5,316.63 L449,316.63 L449.5,316.63 L450,316.64 L450.5,316.64 L451,316.64 L451.5,316.64 L452,316.64 L452.5,316.65 L453,316.65 L453.5,316.65 L454,316.65 L454.5,316.66 L455,316.66 L455.5,316.66 L456,316.66 L456.5,316.66 L457,316.66 L457.5,316.67 L458,316.67 L458.5,316.67 L459,316.67 L459.5,316.67 L460,316.68 L460.5,316.68 L461,316.68 L461.5,316.68 L462,316.68 L462.5,316.68 L463,316.68 L463.5,316.68 L464,316.69 L464.5,316.69 L465,316.69 L465.5,316.69 L466,316.69 L466.5,316.69 L467,316.69 L467.5,316.69 L468,316.69 L468.5,316.69 L469,316.69 L469.5,316.69 L470,316.69 L470.5,316.69 L471,316.69 L471.5,316.69 L472,316.68 L472.5,316.68 L473,316.68 L473.5,316.68 L474,316.68 L474.5,316.67 L475,316.67 L475.5,316.67 L476,316.66 L476.5,316.66 L477,316.66 L477.5,316.65 L478,316.65 L478.5,316.64 L479,316.64 L479.5,316.63 L480,316.63 L480.5,316.62 L481,316.62 L481.5,316.61 L482,316.6 L482.5,316.6 L483,316.59 L483.5,316.58 L484,316.57 L484.5,316.56 L485,316.55 L485.5,316.54 L486,316.53 L486.5,316.52 L487,316.51 L487.5,316.5 L488,316.49 L488.5,316.48 L489,316.47 L489.5,316.46 L490,316.44 L490.5,316.43 L491,316.42 L491.5,316.41 L492,316.39 L492.5,316.38 L493,316.37 L493.5,316.35 L494,316.34 L494.5,316.32 L495,316.31 L495.5,316.29 L496,316.28 L496.5,316.26 L497,316.25 L497.5,316.23 L498,316.22 L498.5,316.2 L499,316.19 L499.5,316.17 L500,316.16 L500.5,316.14 L501,316.13 L501.5,316.11 L502,316.1 L502.5,316.08 L503,316.07 L503.5,316.05 L504,316.04 L504.5,316.02 L505,316.01 L505.5,315.99 L506,315.98 L506.5,315.97 L507,315.95 L507.5,315.94 L508,315.93 L508.5,315.91 L509,315.9 L509.5,315.89 L510,315.87 L510.5,315.86 L511,315.85 L511.5,315.83 L512,315.82 L512.5,315.8 L513,315.79 L513.5,315.78 L514,315.76 L514.5,315.75 L515,315.73 L515.5,315.72 L516,315.7 L516.5,315.68 L517,315.66 L517.5,315.64 L518,315.62 L518.5,315.6 L519,315.58 L519.5,315.56 L520,315.53 L520.5,315.51 L521,315.48 L521.5,315.45 L522,315.42 L522.5,315.39 L523,315.35 L523.5,315.31 L524,315.27 L524.5,315.23 L525,315.19 L525.5,315.14 L526,315.09 L526.5,315.04 L527,314.98 L527.5,314.92 L528,314.86 L528.5,314.8 L529,314.73 L529.5,314.66 L530,314.58 L530.5,314.51 L531,314.43 L531.5,314.34 L532,314.25 L532.5,314.16 L533,314.07 L533.5,313.97 L534,313.87 L534.5,313.76 L535,313.65 L535.5,313.54 L536,313.43 L536.5,313.31 L537,313.19 L537.5,313.07 L538,312.94 L538.5,312.82 L539,312.69 L539.5,312.56 L540,312.42 L540.5,312.29 L541,312.15 L541.5,312.01 L542,311.88 L542.5,311.74 L543,311.6 L543.5,311.46 L544,311.32 L544.5,311.18 L545,311.05 L545.5,310.91 L546,310.78 L546.5,310.65 L547,310.52 L547.5,310.39 L548,310.26 L548.5,310.14 L549,310.02 L549.5,309.91 L550,309.8 L550.5,309.69 L551,309.58 L551.5,309.48 L552,309.39 L552.5,309.29 L553,309.2 L553.5,309.12 L554,309.03 L554.5,308.95 L555,308.87 L555.5,308.79 L556,308.71 L556.5,308.63 L557,308.55 L557.5,308.47 L558,308.38 L558.5,308.29 L559,308.19 L559.5,308.08 L560,307.96 L560.5,307.83 L561,307.67 L561.5,307.51 L562,307.32 L562.5,307.1 L563,306.86 L563.5,306.6 L564,306.3 L564.5,305.97 L565,305.61 L565.5,305.21 L566,304.77 L566.5,304.29 L567,303.77 L567.5,303.2 L568,302.59 L568.5,301.94 L569,301.24 L569.5,300.5 L570,299.72 L570.5,298.9 L571,298.04 L571.5,297.15 L572,296.22 L572.5,295.26 L573,294.28 L573.5,293.28 L574,292.26 L574.5,291.24 L575,290.21 L575.5,289.18 L576,288.16 L576.5,287.15 L577,286.16 L577.5,285.2 L578,284.28 L578.5,283.39 L579,282.54 L579.5,281.75 L580,281.01 L580.5,280.34 L581,279.73 L581.5,279.19 L582,278.72 L582.5,278.33 L583,278.02 L583.5,277.8 L584,277.66 L584.5,277.6 L585,277.63 L585.5,277.76 L586,277.96 L586.5,278.26 L587,278.64 L587.5,279.1 L588,279.64 L588.5,280.27 L589,280.97 L589.5,281.73 L590,282.54 L590.5,283.41 L591,284.33 L591.5,285.29 L592,286.29 L592.5,287.32 L593,288.38 L593.5,289.46 L594,290.57 L594.5,291.68 L595,292.81 L595.5,293.94 L596,295.07 L596.5,296.19 L597,297.31 L597.5,298.41 L598,299.49 L598.5,300.56 L599,301.6 L599.5,302.61 L600,303.59 L600.5,304.54 L601,305.46 L601.5,306.33 L602,307.17 L602.5,307.98 L603,308.74 L603.5,309.46 L604,310.14 L604.5,310.78 L605,311.38 L605.5,311.94 L606,312.46 L606.5,312.94 L607,313.39 L607.5,313.81 L608,314.18 L608.5,314.53 L609,314.85 L609.5,315.14 L610,315.4 L610.5,315.64 L611,315.85 L611.5,316.04 L612,316.21 L612.5,316.37 L613,316.5 L613.5,316.63 L614,316.73 L614.5,316.83 L615,316.91 L615.5,316.99 L616,317.05 L616.5,317.11 L617,317.16 L617.5,317.2 L618,317.24 L618.5,317.27 L619,317.3 L619.5,317.32 L620,317.34 L620.5,317.36 L621,317.38 L621.5,317.39 L622,317.4 L622.5,317.41 L623,317.42 L623.5,317.43 L624,317.44 L624.5,317.44 L625,317.45 L625.5,317.45 L626,317.46 L626.5,317.46 L627,317.47 L627.5,317.47 L628,317.47 L628.5,317.48 L629,317.48 L629.5,317.48 L630,317.49 L630.5,317.49 L631,317.49 L631.5,317.49 L632,317.5 L632.5,317.5 L633,317.5 L633.5,317.51 L634,317.51 L634.5,317.51 L635,317.51 L635.5,317.51 L636,317.52 L636.5,317.52 L637,317.52 L637.5,317.52 L638,317.53 L638.5,317.53 L639,317.53 L639.5,317.53 L640,317.54 L640.5,317.54 L641,317.54 L641.5,317.54 L642,317.55 L642.5,317.55 L643,317.55 L643.5,317.55 L644,317.56 L644.5,317.56 L645,317.56 L645.5,317.56 L646,317.57 L646.5,317.57 L647,317.57 L647.5,317.57 L648,317.57 L648.5,317.58 L649,317.58 L649.5,317.58 L650,317.58 L650.5,317.59 L651,317.59 L651.5,317.59 L652,317.59 L652.5,317.6 L653,317.6 L653.5,317.6 L654,317.6 L654.5,317.61 L655,317.61 L655.5,317.61 L656,317.61 L656.5,317.61 L657,317.62 L657.5,317.62 L658,317.62 L658.5,317.62 L659,317.63 L659.5,317.63 L660,317.63 L660.5,317.63 L661,317.64 L661.5,317.64 L662,317.64 L662.5,317.64 L663,317.65 L663.5,317.65 L664,317.65 L664.5,317.65 L665,317.66 L665.5,317.66 L666,317.66 L666.5,317.66 L667,317.66 L667.5,317.67 L668,317.67 L668.5,317.67 L669,317.67 L669.5,317.68 L670,317.68 L670.5,317.68 L671,317.68 L671.5,317.69 L672,317.69 L672.5,317.69 L673,317.69 L673.5,317.7 L674,317.7 L674.5,317.7" fill="none" stroke="#ff0000" stroke-width="2.4" stroke-linejoin="round" stroke-linecap="round" />
<path d="M554,382.66 L554.5,382.63 L555,382.59 L555.5,382.55 L556,382.49 L556.5,382.43 L557,382.36 L557.5,382.27 L558,382.17 L558.5,382.06 L559,381.93 L559.5,381.79 L560,381.62 L560.5,381.43 L561,381.22 L561.5,380.99 L562,380.72 L562.5,380.43 L563,380.11 L563.5,379.76 L564,379.37 L564.5,378.94 L565,378.49 L565.5,377.99 L566,377.46 L566.5,376.89 L567,376.28 L567.5,375.64 L568,374.96 L568.5,374.25 L569,373.5 L569.5,372.73 L570,371.94 L570.5,371.12 L571,370.29 L571.5,369.45 L572,368.6 L572.5,367.75 L573,366.91 L573.5,366.08 L574,365.27 L574.5,364.49 L575,363.73 L575.5,363.02 L576,362.36 L576.5,361.75 L577,361.19 L577.5,360.71 L578,360.29 L578.5,359.94 L579,359.67 L579.5,359.49 L580,359.38 L580.5,359.36 L581,359.42 L581.5,359.56 L582,359.79 L582.5,360.09 L583,360.47 L583.5,360.92 L584,361.44 L584.5,362.02 L585,362.66 L585.5,363.35 L586,364.08 L586.5,364.85 L587,365.65 L587.5,366.48 L588,367.32 L588.5,368.17 L589,369.02 L589.5,369.87 L590,370.72 L590.5,371.55 L591,372.36 L591.5,373.15 L592,373.91 L592.5,374.65 L593,375.35 L593.5,376.02 L594,376.66 L594.5,377.25 L595,377.81 L595.5,378.34 L596,378.82 L596.5,379.27 L597,379.68 L597.5,380.06 L598,380.41 L598.5,380.72 L599,381.01 L599.5,381.27 L600,381.5 L600.5,381.7 L601,381.89 L601.5,382.05 L602,382.19 L602.5,382.32 L603,382.43 L603.5,382.53 L604,382.61 L604.5,382.68 L605,382.75 L605.5,382.8 L606,382.85 L606.5,382.89 L607,382.92" fill="none" stroke="#008000" stroke-width="2.3" stroke-linejoin="round" stroke-linecap="round" />
<path d="M567,382.71 L567.5,382.68 L568,382.63 L568.5,382.58 L569,382.52 L569.5,382.45 L570,382.36 L570.5,382.26 L571,382.15 L571.5,382.01 L572,381.86 L572.5,381.69 L573,381.49 L573.5,381.27 L574,381.03 L574.5,380.75 L575,380.45 L575.5,380.11 L576,379.74 L576.5,379.34 L577,378.91 L577.5,378.44 L578,377.94 L578.5,377.41 L579,376.84 L579.5,376.25 L580,375.63 L580.5,374.99 L581,374.33 L581.5,373.65 L582,372.96 L582.5,372.27 L583,371.58 L583.5,370.9 L584,370.23 L584.5,369.58 L585,368.96 L585.5,368.38 L586,367.83 L586.5,367.33 L587,366.89 L587.5,366.5 L588,366.18 L588.5,365.93 L589,365.75 L589.5,365.64 L590,365.6 L590.5,365.63 L591,365.73 L591.5,365.9 L592,366.12 L592.5,366.4 L593,366.74 L593.5,367.13 L594,367.57 L594.5,368.05 L595,368.58 L595.5,369.13 L596,369.71 L596.5,370.32 L597,370.95 L597.5,371.58 L598,372.23 L598.5,372.87 L599,373.52 L599.5,374.15 L600,374.78 L600.5,375.38 L601,375.98 L601.5,376.55 L602,377.09 L602.5,377.61 L603,378.11 L603.5,378.58 L604,379.02 L604.5,379.42 L605,379.81 L605.5,380.16 L606,380.48 L606.5,380.78 L607,381.05 L607.5,381.3 L608,381.52 L608.5,381.72 L609,381.9 L609.5,382.06 L610,382.21 L610.5,382.33 L611,382.44 L611.5,382.54 L612,382.63 L612.5,382.7 L613,382.77 L613.5,382.82 L614,382.87 L614.5,382.92 L615,382.95" fill="none" stroke="#00ff00" stroke-width="2.3" stroke-linejoin="round" stroke-linecap="round" />
<path d="M421,382.2 L421.5,382.2 L422,382.2 L422.5,382.21 L423,382.21 L423.5,382.21 L424,382.21 L424.5,382.22 L425,382.22 L425.5,382.22 L426,382.22 L426.5,382.23 L427,382.23 L427.5,382.23 L428,382.23 L428.5,382.24 L429,382.24 L429.5,382.24 L430,382.24 L430.5,382.24 L431,382.25 L431.5,382.25 L432,382.25 L432.5,382.25 L433,382.26 L433.5,382.26 L434,382.26 L434.5,382.26 L435,382.27 L435.5,382.27 L436,382.27 L436.5,382.27 L437,382.28 L437.5,382.28 L438,382.28 L438.5,382.28 L439,382.29 L439.5,382.29 L440,382.29 L440.5,382.29 L441,382.29 L441.5,382.3 L442,382.3 L442.5,382.3 L443,382.3 L443.5,382.31 L444,382.31 L444.5,382.31 L445,382.31 L445.5,382.32 L446,382.32 L446.5,382.32 L447,382.32 L447.5,382.33 L448,382.33 L448.5,382.33 L449,382.33 L449.5,382.33 L450,382.34 L450.5,382.34 L451,382.34 L451.5,382.34 L452,382.35 L452.5,382.35 L453,382.35 L453.5,382.35 L454,382.36 L454.5,382.36 L455,382.36 L455.5,382.36 L456,382.37 L456.5,382.37 L457,382.37 L457.5,382.37 L458,382.38 L458.5,382.38 L459,382.38 L459.5,382.38 L460,382.38 L460.5,382.39 L461,382.39 L461.5,382.39 L462,382.39 L462.5,382.4 L463,382.4 L463.5,382.4 L464,382.4 L464.5,382.41 L465,382.41 L465.5,382.41 L466,382.41 L466.5,382.42 L467,382.42 L467.5,382.42 L468,382.42 L468.5,382.42 L469,382.43 L469.5,382.43 L470,382.43 L470.5,382.43 L471,382.44 L471.5,382.44 L472,382.44 L472.5,382.44 L473,382.45 L473.5,382.45 L474,382.45 L474.5,382.45 L475,382.46 L475.5,382.46 L476,382.46 L476.5,382.46 L477,382.47 L477.5,382.47 L478,382.47 L478.5,382.47 L479,382.47 L479.5,382.48 L480,382.48 L480.5,382.48 L481,382.48 L481.5,382.49 L482,382.49 L482.5,382.49 L483,382.49 L483.5,382.5 L484,382.5 L484.5,382.5 L485,382.5 L485.5,382.5 L486,382.51 L486.5,382.51 L487,382.51 L487.5,382.51 L488,382.52 L488.5,382.52 L489,382.52 L489.5,382.52 L490,382.52 L490.5,382.53 L491,382.53 L491.5,382.53 L492,382.53 L492.5,382.54 L493,382.54 L493.5,382.54 L494,382.54 L494.5,382.54 L495,382.54 L495.5,382.55 L496,382.55 L496.5,382.55 L497,382.55 L497.5,382.55 L498,382.55 L498.5,382.55 L499,382.56 L499.5,382.56 L500,382.56 L500.5,382.56 L501,382.56 L501.5,382.56 L502,382.56 L502.5,382.56 L503,382.56 L503.5,382.55 L504,382.55 L504.5,382.55 L505,382.55 L505.5,382.55 L506,382.54 L506.5,382.54 L507,382.54 L507.5,382.53 L508,382.53 L508.5,382.52 L509,382.52 L509.5,382.51 L510,382.5 L510.5,382.49 L511,382.48 L511.5,382.47 L512,382.46 L512.5,382.45 L513,382.43 L513.5,382.42 L514,382.4 L514.5,382.39 L515,382.37 L515.5,382.35 L516,382.33 L516.5,382.31 L517,382.28 L517.5,382.25 L518,382.23 L518.5,382.2 L519,382.17 L519.5,382.13 L520,382.1 L520.5,382.06 L521,382.02 L521.5,381.98 L522,381.93 L522.5,381.89 L523,381.84 L523.5,381.79 L524,381.74 L524.5,381.68 L525,381.62 L525.5,381.56 L526,381.5 L526.5,381.43 L527,381.36 L527.5,381.29 L528,381.22 L528.5,381.14 L529,381.06 L529.5,380.98 L530,380.89 L530.5,380.81 L531,380.72 L531.5,380.63 L532,380.53 L532.5,380.44 L533,380.34 L533.5,380.24 L534,380.14 L534.5,380.03 L535,379.93 L535.5,379.82 L536,379.71 L536.5,379.6 L537,379.5 L537.5,379.38 L538,379.27 L538.5,379.16 L539,379.05 L539.5,378.94 L540,378.83 L540.5,378.72 L541,378.61 L541.5,378.5 L542,378.39 L542.5,378.29 L543,378.19 L543.5,378.08 L544,377.98 L544.5,377.89 L545,377.79 L545.5,377.7 L546,377.62 L546.5,377.53 L547,377.45 L547.5,377.38 L548,377.3 L548.5,377.24 L549,377.17 L549.5,377.12 L550,377.06 L550.5,377.02 L551,376.97 L551.5,376.94 L552,376.9 L552.5,376.88 L553,376.86 L553.5,376.84 L554,376.84 L554.5,376.83 L555,376.84 L555.5,376.84 L556,376.86 L556.5,376.87 L557,376.9 L557.5,376.93 L558,376.96 L558.5,377 L559,377.04 L559.5,377.09 L560,377.14 L560.5,377.2 L561,377.26 L561.5,377.33 L562,377.4 L562.5,377.47 L563,377.55 L563.5,377.63 L564,377.71 L564.5,377.8 L565,377.89 L565.5,377.98 L566,378.08 L566.5,378.17 L567,378.27 L567.5,378.37 L568,378.48 L568.5,378.58 L569,378.69 L569.5,378.8 L570,378.9 L570.5,379.01 L571,379.12 L571.5,379.23 L572,379.34 L572.5,379.45 L573,379.56 L573.5,379.67 L574,379.77 L574.5,379.88 L575,379.99 L575.5,380.09 L576,380.2 L576.5,380.3 L577,380.4 L577.5,380.5 L578,380.6 L578.5,380.69 L579,380.79 L579.5,380.88 L580,380.97 L580.5,381.06 L581,381.14 L581.5,381.23 L582,381.31 L582.5,381.39 L583,381.47 L583.5,381.54 L584,381.61 L584.5,381.68 L585,381.75 L585.5,381.82 L586,381.88 L586.5,381.94 L587,382 L587.5,382.06 L588,382.11 L588.5,382.16 L589,382.21 L589.5,382.26 L590,382.31 L590.5,382.35 L591,382.39 L591.5,382.43 L592,382.47 L592.5,382.51 L593,382.54 L593.5,382.57 L594,382.6 L594.5,382.63 L595,382.66 L595.5,382.69 L596,382.71 L596.5,382.74 L597,382.76 L597.5,382.78 L598,382.8 L598.5,382.82 L599,382.84 L599.5,382.86 L600,382.88 L600.5,382.89 L601,382.91 L601.5,382.92 L602,382.93 L602.5,382.94 L603,382.96 L603.5,382.97 L604,382.98 L604.5,382.99 L605,383 L605.5,383 L606,383.01 L606.5,383.02 L607,383.03 L607.5,383.03 L608,383.04 L608.5,383.05 L609,383.05 L609.5,383.06 L610,383.06 L610.5,383.07 L611,383.07 L611.5,383.08 L612,383.08 L612.5,383.09 L613,383.09 L613.5,383.1 L614,383.1 L614.5,383.1 L615,383.11 L615.5,383.11 L616,383.11 L616.5,383.12 L617,383.12 L617.5,383.12 L618,383.13 L618.5,383.13 L619,383.13 L619.5,383.14 L620,383.14 L620.5,383.14 L621,383.14 L621.5,383.15 L622,383.15 L622.5,383.15 L623,383.15 L623.5,383.16 L624,383.16 L624.5,383.16 L625,383.16 L625.5,383.17 L626,383.17 L626.5,383.17 L627,383.17 L627.5,383.18 L628,383.18 L628.5,383.18 L629,383.18 L629.5,383.19 L630,383.19 L630.5,383.19 L631,383.19 L631.5,383.2 L632,383.2 L632.5,383.2 L633,383.2 L633.5,383.21 L634,383.21 L634.5,383.21 L635,383.21 L635.5,383.22 L636,383.22 L636.5,383.22 L637,383.22 L637.5,383.22 L638,383.23 L638.5,383.23 L639,383.23 L639.5,383.23 L640,383.24 L640.5,383.24 L641,383.24 L641.5,383.24 L642,383.25 L642.5,383.25 L643,383.25 L643.5,383.25 L644,383.26 L644.5,383.26 L645,383.26 L645.5,383.26 L646,383.27 L646.5,383.27 L647,383.27 L647.5,383.27 L648,383.27 L648.5,383.28 L649,383.28 L649.5,383.28 L650,383.28 L650.5,383.29 L651,383.29 L651.5,383.29 L652,383.29 L652.5,383.3 L653,383.3 L653.5,383.3 L654,383.3 L654.5,383.31 L655,383.31 L655.5,383.31 L656,383.31 L656.5,383.31 L657,383.32 L657.5,383.32 L658,383.32 L658.5,383.32 L659,383.33 L659.5,383.33 L660,383.33 L660.5,383.33 L661,383.34 L661.5,383.34 L662,383.34 L662.5,383.34 L663,383.35 L663.5,383.35 L664,383.35 L664.5,383.35 L665,383.36 L665.5,383.36 L666,383.36 L666.5,383.36 L667,383.36 L667.5,383.37 L668,383.37 L668.5,383.37 L669,383.37 L669.5,383.38 L670,383.38 L670.5,383.38 L671,383.38 L671.5,383.39 L672,383.39 L672.5,383.39 L673,383.39 L673.5,383.4 L674,383.4 L674.5,383.4" fill="none" stroke="#000080" stroke-width="2.2" stroke-linejoin="round" stroke-linecap="round" />
<path d="M421,381.8 L421.5,381.8 L422,381.8 L422.5,381.8 L423,381.81 L423.5,381.81 L424,381.81 L424.5,381.81 L425,381.81 L425.5,381.81 L426,381.82 L426.5,381.82 L427,381.82 L427.5,381.82 L428,381.82 L428.5,381.82 L429,381.83 L429.5,381.83 L430,381.83 L430.5,381.83 L431,381.83 L431.5,381.83 L432,381.83 L432.5,381.84 L433,381.84 L433.5,381.84 L434,381.84 L434.5,381.84 L435,381.84 L435.5,381.85 L436,381.85 L436.5,381.85 L437,381.85 L437.5,381.85 L438,381.85 L438.5,381.86 L439,381.86 L439.5,381.86 L440,381.86 L440.5,381.86 L441,381.86 L441.5,381.86 L442,381.87 L442.5,381.87 L443,381.87 L443.5,381.87 L444,381.87 L444.5,381.87 L445,381.88 L445.5,381.88 L446,381.88 L446.5,381.88 L447,381.88 L447.5,381.88 L448,381.88 L448.5,381.89 L449,381.89 L449.5,381.89 L450,381.89 L450.5,381.89 L451,381.89 L451.5,381.89 L452,381.9 L452.5,381.9 L453,381.9 L453.5,381.9 L454,381.9 L454.5,381.9 L455,381.9 L455.5,381.9 L456,381.9 L456.5,381.91 L457,381.91 L457.5,381.91 L458,381.91 L458.5,381.91 L459,381.91 L459.5,381.91 L460,381.91 L460.5,381.91 L461,381.91 L461.5,381.91 L462,381.91 L462.5,381.91 L463,381.91 L463.5,381.91 L464,381.91 L464.5,381.91 L465,381.91 L465.5,381.91 L466,381.91 L466.5,381.91 L467,381.91 L467.5,381.91 L468,381.91 L468.5,381.91 L469,381.91 L469.5,381.9 L470,381.9 L470.5,381.9 L471,381.9 L471.5,381.89 L472,381.89 L472.5,381.89 L473,381.89 L473.5,381.88 L474,381.88 L474.5,381.87 L475,381.87 L475.5,381.86 L476,381.86 L476.5,381.85 L477,381.85 L477.5,381.84 L478,381.83 L478.5,381.83 L479,381.82 L479.5,381.81 L480,381.8 L480.5,381.8 L481,381.79 L481.5,381.78 L482,381.77 L482.5,381.76 L483,381.75 L483.5,381.74 L484,381.73 L484.5,381.71 L485,381.7 L485.5,381.69 L486,381.68 L486.5,381.66 L487,381.65 L487.5,381.64 L488,381.62 L488.5,381.61 L489,381.59 L489.5,381.57 L490,381.56 L490.5,381.54 L491,381.53 L491.5,381.51 L492,381.49 L492.5,381.47 L493,381.45 L493.5,381.44 L494,381.42 L494.5,381.4 L495,381.38 L495.5,381.36 L496,381.34 L496.5,381.32 L497,381.3 L497.5,381.28 L498,381.26 L498.5,381.24 L499,381.22 L499.5,381.2 L500,381.18 L500.5,381.16 L501,381.14 L501.5,381.12 L502,381.1 L502.5,381.08 L503,381.06 L503.5,381.04 L504,381.02 L504.5,381 L505,380.98 L505.5,380.96 L506,380.95 L506.5,380.93 L507,380.91 L507.5,380.89 L508,380.87 L508.5,380.85 L509,380.83 L509.5,380.81 L510,380.79 L510.5,380.77 L511,380.75 L511.5,380.73 L512,380.71 L512.5,380.69 L513,380.67 L513.5,380.65 L514,380.63 L514.5,380.6 L515,380.58 L515.5,380.56 L516,380.53 L516.5,380.5 L517,380.48 L517.5,380.45 L518,380.42 L518.5,380.39 L519,380.35 L519.5,380.32 L520,380.28 L520.5,380.24 L521,380.2 L521.5,380.16 L522,380.11 L522.5,380.07 L523,380.02 L523.5,379.96 L524,379.91 L524.5,379.85 L525,379.79 L525.5,379.72 L526,379.65 L526.5,379.58 L527,379.51 L527.5,379.43 L528,379.35 L528.5,379.26 L529,379.17 L529.5,379.08 L530,378.99 L530.5,378.89 L531,378.78 L531.5,378.68 L532,378.57 L532.5,378.45 L533,378.34 L533.5,378.22 L534,378.09 L534.5,377.97 L535,377.84 L535.5,377.7 L536,377.57 L536.5,377.43 L537,377.29 L537.5,377.15 L538,377.01 L538.5,376.87 L539,376.72 L539.5,376.58 L540,376.43 L540.5,376.29 L541,376.14 L541.5,376 L542,375.85 L542.5,375.71 L543,375.57 L543.5,375.43 L544,375.3 L544.5,375.17 L545,375.04 L545.5,374.91 L546,374.79 L546.5,374.67 L547,374.56 L547.5,374.45 L548,374.35 L548.5,374.25 L549,374.16 L549.5,374.07 L550,373.99 L550.5,373.92 L551,373.85 L551.5,373.79 L552,373.73 L552.5,373.68 L553,373.63 L553.5,373.59 L554,373.55 L554.5,373.51 L555,373.48 L555.5,373.45 L556,373.42 L556.5,373.39 L557,373.36 L557.5,373.34 L558,373.3 L558.5,373.27 L559,373.22 L559.5,373.17 L560,373.11 L560.5,373.03 L561,372.94 L561.5,372.83 L562,372.69 L562.5,372.53 L563,372.35 L563.5,372.14 L564,371.89 L564.5,371.61 L565,371.3 L565.5,370.95 L566,370.55 L566.5,370.12 L567,369.64 L567.5,369.12 L568,368.56 L568.5,367.95 L569,367.3 L569.5,366.61 L570,365.88 L570.5,365.1 L571,364.29 L571.5,363.45 L572,362.57 L572.5,361.66 L573,360.73 L573.5,359.78 L574,358.81 L574.5,357.83 L575,356.84 L575.5,355.85 L576,354.87 L576.5,353.9 L577,352.94 L577.5,352.01 L578,351.11 L578.5,350.24 L579,349.41 L579.5,348.63 L580,347.9 L580.5,347.24 L581,346.64 L581.5,346.11 L582,345.65 L582.5,345.28 L583,344.99 L583.5,344.79 L584,344.68 L584.5,344.66 L585,344.74 L585.5,344.91 L586,345.18 L586.5,345.54 L587,346 L587.5,346.55 L588,347.19 L588.5,347.91 L589,348.71 L589.5,349.59 L590,350.54 L590.5,351.54 L591,352.59 L591.5,353.68 L592,354.8 L592.5,355.94 L593,357.11 L593.5,358.29 L594,359.47 L594.5,360.65 L595,361.83 L595.5,363 L596,364.14 L596.5,365.27 L597,366.38 L597.5,367.45 L598,368.49 L598.5,369.5 L599,370.47 L599.5,371.4 L600,372.28 L600.5,373.12 L601,373.92 L601.5,374.67 L602,375.38 L602.5,376.04 L603,376.66 L603.5,377.24 L604,377.77 L604.5,378.26 L605,378.71 L605.5,379.12 L606,379.5 L606.5,379.84 L607,380.15 L607.5,380.42 L608,380.67 L608.5,380.9 L609,381.1 L609.5,381.27 L610,381.43 L610.5,381.57 L611,381.69 L611.5,381.79 L612,381.89 L612.5,381.97 L613,382.04 L613.5,382.1 L614,382.15 L614.5,382.19 L615,382.23 L615.5,382.26 L616,382.29 L616.5,382.31 L617,382.33 L617.5,382.35 L618,382.36 L618.5,382.38 L619,382.39 L619.5,382.39 L620,382.4 L620.5,382.41 L621,382.41 L621.5,382.42 L622,382.42 L622.5,382.43 L623,382.43 L623.5,382.43 L624,382.44 L624.5,382.44 L625,382.44 L625.5,382.44 L626,382.44 L626.5,382.45 L627,382.45 L627.5,382.45 L628,382.45 L628.5,382.45 L629,382.46 L629.5,382.46 L630,382.46 L630.5,382.46 L631,382.46 L631.5,382.46 L632,382.47 L632.5,382.47 L633,382.47 L633.5,382.47 L634,382.47 L634.5,382.47 L635,382.48 L635.5,382.48 L636,382.48 L636.5,382.48 L637,382.48 L637.5,382.48 L638,382.48 L638.5,382.49 L639,382.49 L639.5,382.49 L640,382.49 L640.5,382.49 L641,382.49 L641.5,382.5 L642,382.5 L642.5,382.5 L643,382.5 L643.5,382.5 L644,382.5 L644.5,382.51 L645,382.51 L645.5,382.51 L646,382.51 L646.5,382.51 L647,382.51 L647.5,382.51 L648,382.52 L648.5,382.52 L649,382.52 L649.5,382.52 L650,382.52 L650.5,382.52 L651,382.53 L651.5,382.53 L652,382.53 L652.5,382.53 L653,382.53 L653.5,382.53 L654,382.54 L654.5,382.54 L655,382.54 L655.5,382.54 L656,382.54 L656.5,382.54 L657,382.54 L657.5,382.55 L658,382.55 L658.5,382.55 L659,382.55 L659.5,382.55 L660,382.55 L660.5,382.56 L661,382.56 L661.5,382.56 L662,382.56 L662.5,382.56 L663,382.56 L663.5,382.57 L664,382.57 L664.5,382.57 L665,382.57 L665.5,382.57 L666,382.57 L666.5,382.57 L667,382.58 L667.5,382.58 L668,382.58 L668.5,382.58 L669,382.58 L669.5,382.58 L670,382.59 L670.5,382.59 L671,382.59 L671.5,382.59 L672,382.59 L672.5,382.59 L673,382.6 L673.5,382.6 L674,382.6 L674.5,382.6" fill="none" stroke="#ff0000" stroke-width="2.4" stroke-linejoin="round" stroke-linecap="round" />
<path d="M551,448.51 L551.5,448.48 L552,448.45 L552.5,448.41 L553,448.36 L553.5,448.3 L554,448.23 L554.5,448.16 L555,448.07 L555.5,447.97 L556,447.85 L556.5,447.72 L557,447.57 L557.5,447.4 L558,447.21 L558.5,447 L559,446.76 L559.5,446.5 L560,446.22 L560.5,445.9 L561,445.56 L561.5,445.2 L562,444.8 L562.5,444.37 L563,443.91 L563.5,443.43 L564,442.91 L564.5,442.37 L565,441.8 L565.5,441.2 L566,440.59 L566.5,439.96 L567,439.31 L567.5,438.64 L568,437.97 L568.5,437.3 L569,436.63 L569.5,435.96 L570,435.3 L570.5,434.67 L571,434.05 L571.5,433.46 L572,432.9 L572.5,432.38 L573,431.91 L573.5,431.48 L574,431.1 L574.5,430.78 L575,430.52 L575.5,430.33 L576,430.19 L576.5,430.12 L577,430.12 L577.5,430.19 L578,430.32 L578.5,430.51 L579,430.77 L579.5,431.08 L580,431.46 L580.5,431.89 L581,432.36 L581.5,432.88 L582,433.44 L582.5,434.03 L583,434.65 L583.5,435.3 L584,435.96 L584.5,436.63 L585,437.31 L585.5,438 L586,438.68 L586.5,439.35 L587,440.01 L587.5,440.66 L588,441.29 L588.5,441.89 L589,442.48 L589.5,443.03 L590,443.56 L590.5,444.07 L591,444.54 L591.5,444.98 L592,445.39 L592.5,445.78 L593,446.13 L593.5,446.46 L594,446.76 L594.5,447.03 L595,447.28 L595.5,447.51 L596,447.71 L596.5,447.89 L597,448.05 L597.5,448.2 L598,448.33 L598.5,448.44 L599,448.54 L599.5,448.63 L600,448.71 L600.5,448.78 L601,448.84 L601.5,448.89 L602,448.93 L602.5,448.97" fill="none" stroke="#008000" stroke-width="2.3" stroke-linejoin="round" stroke-linecap="round" />
<path d="M556,448.55 L556.5,448.52 L557,448.48 L557.5,448.44 L558,448.39 L558.5,448.33 L559,448.26 L559.5,448.19 L560,448.09 L560.5,447.99 L561,447.87 L561.5,447.74 L562,447.58 L562.5,447.41 L563,447.21 L563.5,447 L564,446.75 L564.5,446.48 L565,446.18 L565.5,445.85 L566,445.49 L566.5,445.09 L567,444.66 L567.5,444.19 L568,443.68 L568.5,443.14 L569,442.55 L569.5,441.93 L570,441.26 L570.5,440.56 L571,439.82 L571.5,439.04 L572,438.23 L572.5,437.38 L573,436.51 L573.5,435.61 L574,434.68 L574.5,433.74 L575,432.79 L575.5,431.82 L576,430.86 L576.5,429.89 L577,428.94 L577.5,428.01 L578,427.09 L578.5,426.21 L579,425.37 L579.5,424.57 L580,423.81 L580.5,423.12 L581,422.49 L581.5,421.92 L582,421.43 L582.5,421.01 L583,420.68 L583.5,420.43 L584,420.27 L584.5,420.19 L585,420.2 L585.5,420.29 L586,420.44 L586.5,420.67 L587,420.97 L587.5,421.34 L588,421.77 L588.5,422.27 L589,422.82 L589.5,423.42 L590,424.08 L590.5,424.78 L591,425.52 L591.5,426.3 L592,427.11 L592.5,427.94 L593,428.79 L593.5,429.66 L594,430.54 L594.5,431.43 L595,432.32 L595.5,433.2 L596,434.07 L596.5,434.94 L597,435.79 L597.5,436.62 L598,437.42 L598.5,438.21 L599,438.97 L599.5,439.7 L600,440.4 L600.5,441.07 L601,441.71 L601.5,442.31 L602,442.89 L602.5,443.43 L603,443.93 L603.5,444.41 L604,444.85 L604.5,445.27 L605,445.65 L605.5,446.01 L606,446.33 L606.5,446.63 L607,446.91 L607.5,447.16 L608,447.39 L608.5,447.6 L609,447.79 L609.5,447.96 L610,448.12 L610.5,448.25 L611,448.38 L611.5,448.49 L612,448.59 L612.5,448.68 L613,448.76 L613.5,448.83 L614,448.89 L614.5,448.95 L615,448.99 L615.5,449.04 L616,449.07 L616.5,449.11" fill="none" stroke="#00ff00" stroke-width="2.3" stroke-linejoin="round" stroke-linecap="round" />
<path d="M421,447.5 L421.5,447.5 L422,447.51 L422.5,447.51 L423,447.52 L423.5,447.52 L424,447.53 L424.5,447.53 L425,447.54 L425.5,447.54 L426,447.55 L426.5,447.55 L427,447.55 L427.5,447.56 L428,447.56 L428.5,447.57 L429,447.57 L429.5,447.58 L430,447.58 L430.5,447.59 L431,447.59 L431.5,447.6 L432,447.6 L432.5,447.6 L433,447.61 L433.5,447.61 L434,447.62 L434.5,447.62 L435,447.63 L435.5,447.63 L436,447.64 L436.5,447.64 L437,447.65 L437.5,447.65 L438,447.65 L438.5,447.66 L439,447.66 L439.5,447.67 L440,447.67 L440.5,447.68 L441,447.68 L441.5,447.69 L442,447.69 L442.5,447.7 L443,447.7 L443.5,447.7 L444,447.71 L444.5,447.71 L445,447.72 L445.5,447.72 L446,447.73 L446.5,447.73 L447,447.74 L447.5,447.74 L448,447.74 L448.5,447.75 L449,447.75 L449.5,447.76 L450,447.76 L450.5,447.77 L451,447.77 L451.5,447.78 L452,447.78 L452.5,447.79 L453,447.79 L453.5,447.79 L454,447.8 L454.5,447.8 L455,447.81 L455.5,447.81 L456,447.82 L456.5,447.82 L457,447.83 L457.5,447.83 L458,447.84 L458.5,447.84 L459,447.84 L459.5,447.85 L460,447.85 L460.5,447.86 L461,447.86 L461.5,447.87 L462,447.87 L462.5,447.88 L463,447.88 L463.5,447.89 L464,447.89 L464.5,447.89 L465,447.9 L465.5,447.9 L466,447.91 L466.5,447.91 L467,447.92 L467.5,447.92 L468,447.93 L468.5,447.93 L469,447.94 L469.5,447.94 L470,447.94 L470.5,447.95 L471,447.95 L471.5,447.96 L472,447.96 L472.5,447.97 L473,447.97 L473.5,447.98 L474,447.98 L474.5,447.99 L475,447.99 L475.5,447.99 L476,448 L476.5,448 L477,448.01 L477.5,448.01 L478,448.02 L478.5,448.02 L479,448.03 L479.5,448.03 L480,448.03 L480.5,448.04 L481,448.04 L481.5,448.05 L482,448.05 L482.5,448.06 L483,448.06 L483.5,448.07 L484,448.07 L484.5,448.07 L485,448.08 L485.5,448.08 L486,448.09 L486.5,448.09 L487,448.1 L487.5,448.1 L488,448.1 L488.5,448.11 L489,448.11 L489.5,448.12 L490,448.12 L490.5,448.12 L491,448.13 L491.5,448.13 L492,448.14 L492.5,448.14 L493,448.14 L493.5,448.15 L494,448.15 L494.5,448.15 L495,448.16 L495.5,448.16 L496,448.16 L496.5,448.16 L497,448.16 L497.5,448.17 L498,448.17 L498.5,448.17 L499,448.17 L499.5,448.17 L500,448.17 L500.5,448.17 L501,448.17 L501.5,448.17 L502,448.17 L502.5,448.16 L503,448.16 L503.5,448.16 L504,448.15 L504.5,448.15 L505,448.14 L505.5,448.13 L506,448.13 L506.5,448.12 L507,448.11 L507.5,448.1 L508,448.09 L508.5,448.07 L509,448.06 L509.5,448.04 L510,448.02 L510.5,448.01 L511,447.98 L511.5,447.96 L512,447.94 L512.5,447.91 L513,447.88 L513.5,447.85 L514,447.82 L514.5,447.79 L515,447.75 L515.5,447.71 L516,447.67 L516.5,447.62 L517,447.58 L517.5,447.53 L518,447.47 L518.5,447.42 L519,447.36 L519.5,447.3 L520,447.23 L520.5,447.16 L521,447.09 L521.5,447.02 L522,446.94 L522.5,446.86 L523,446.78 L523.5,446.69 L524,446.6 L524.5,446.5 L525,446.4 L525.5,446.3 L526,446.2 L526.5,446.09 L527,445.98 L527.5,445.86 L528,445.74 L528.5,445.62 L529,445.5 L529.5,445.38 L530,445.25 L530.5,445.12 L531,444.98 L531.5,444.85 L532,444.71 L532.5,444.57 L533,444.43 L533.5,444.29 L534,444.15 L534.5,444.01 L535,443.86 L535.5,443.72 L536,443.58 L536.5,443.43 L537,443.29 L537.5,443.15 L538,443.01 L538.5,442.87 L539,442.74 L539.5,442.61 L540,442.47 L540.5,442.35 L541,442.22 L541.5,442.1 L542,441.99 L542.5,441.87 L543,441.77 L543.5,441.66 L544,441.57 L544.5,441.48 L545,441.39 L545.5,441.31 L546,441.24 L546.5,441.17 L547,441.11 L547.5,441.05 L548,441.01 L548.5,440.97 L549,440.93 L549.5,440.91 L550,440.89 L550.5,440.88 L551,440.88 L551.5,440.89 L552,440.9 L552.5,440.92 L553,440.94 L553.5,440.97 L554,441.01 L554.5,441.06 L555,441.11 L555.5,441.17 L556,441.23 L556.5,441.3 L557,441.37 L557.5,441.46 L558,441.54 L558.5,441.63 L559,441.73 L559.5,441.83 L560,441.94 L560.5,442.05 L561,442.16 L561.5,442.28 L562,442.4 L562.5,442.53 L563,442.66 L563.5,442.79 L564,442.92 L564.5,443.06 L565,443.2 L565.5,443.34 L566,443.48 L566.5,443.62 L567,443.76 L567.5,443.9 L568,444.05 L568.5,444.19 L569,444.33 L569.5,444.48 L570,444.62 L570.5,444.76 L571,444.9 L571.5,445.04 L572,445.18 L572.5,445.32 L573,445.45 L573.5,445.58 L574,445.71 L574.5,445.84 L575,445.97 L575.5,446.09 L576,446.21 L576.5,446.33 L577,446.45 L577.5,446.56 L578,446.67 L578.5,446.78 L579,446.89 L579.5,446.99 L580,447.09 L580.5,447.18 L581,447.27 L581.5,447.36 L582,447.45 L582.5,447.53 L583,447.61 L583.5,447.69 L584,447.77 L584.5,447.84 L585,447.91 L585.5,447.97 L586,448.04 L586.5,448.1 L587,448.16 L587.5,448.21 L588,448.27 L588.5,448.32 L589,448.37 L589.5,448.41 L590,448.46 L590.5,448.5 L591,448.54 L591.5,448.58 L592,448.61 L592.5,448.65 L593,448.68 L593.5,448.71 L594,448.74 L594.5,448.77 L595,448.8 L595.5,448.82 L596,448.85 L596.5,448.87 L597,448.89 L597.5,448.91 L598,448.93 L598.5,448.95 L599,448.97 L599.5,448.98 L600,449 L600.5,449.01 L601,449.03 L601.5,449.04 L602,449.05 L602.5,449.06 L603,449.08 L603.5,449.09 L604,449.1 L604.5,449.11 L605,449.12 L605.5,449.13 L606,449.14 L606.5,449.14 L607,449.15 L607.5,449.16 L608,449.17 L608.5,449.17 L609,449.18 L609.5,449.19 L610,449.2 L610.5,449.2 L611,449.21 L611.5,449.21 L612,449.22 L612.5,449.23 L613,449.23 L613.5,449.24 L614,449.24 L614.5,449.25 L615,449.25 L615.5,449.26 L616,449.26 L616.5,449.27 L617,449.27 L617.5,449.28 L618,449.28 L618.5,449.29 L619,449.29 L619.5,449.3 L620,449.3 L620.5,449.31 L621,449.31 L621.5,449.32 L622,449.32 L622.5,449.33 L623,449.33 L623.5,449.34 L624,449.34 L624.5,449.35 L625,449.35 L625.5,449.35 L626,449.36 L626.5,449.36 L627,449.37 L627.5,449.37 L628,449.38 L628.5,449.38 L629,449.39 L629.5,449.39 L630,449.4 L630.5,449.4 L631,449.41 L631.5,449.41 L632,449.41 L632.5,449.42 L633,449.42 L633.5,449.43 L634,449.43 L634.5,449.44 L635,449.44 L635.5,449.45 L636,449.45 L636.5,449.46 L637,449.46 L637.5,449.46 L638,449.47 L638.5,449.47 L639,449.48 L639.5,449.48 L640,449.49 L640.5,449.49 L641,449.5 L641.5,449.5 L642,449.51 L642.5,449.51 L643,449.51 L643.5,449.52 L644,449.52 L644.5,449.53 L645,449.53 L645.5,449.54 L646,449.54 L646.5,449.55 L647,449.55 L647.5,449.56 L648,449.56 L648.5,449.56 L649,449.57 L649.5,449.57 L650,449.58 L650.5,449.58 L651,449.59 L651.5,449.59 L652,449.6 L652.5,449.6 L653,449.6 L653.5,449.61 L654,449.61 L654.5,449.62 L655,449.62 L655.5,449.63 L656,449.63 L656.5,449.64 L657,449.64 L657.5,449.65 L658,449.65 L658.5,449.65 L659,449.66 L659.5,449.66 L660,449.67 L660.5,449.67 L661,449.68 L661.5,449.68 L662,449.69 L662.5,449.69 L663,449.7 L663.5,449.7 L664,449.7 L664.5,449.71 L665,449.71 L665.5,449.72 L666,449.72 L666.5,449.73 L667,449.73 L667.5,449.74 L668,449.74 L668.5,449.75 L669,449.75 L669.5,449.75 L670,449.76 L670.5,449.76 L671,449.77 L671.5,449.77 L672,449.78 L672.5,449.78 L673,449.79 L673.5,449.79 L674,449.8 L674.5,449.8" fill="none" stroke="#000080" stroke-width="2.2" stroke-linejoin="round" stroke-linecap="round" />
<path d="M421,447.1 L421.5,447.1 L422,447.11 L422.5,447.11 L423,447.11 L423.5,447.12 L424,447.12 L424.5,447.13 L425,447.13 L425.5,447.13 L426,447.14 L426.5,447.14 L427,447.14 L427.5,447.15 L428,447.15 L428.5,447.16 L429,447.16 L429.5,447.16 L430,447.17 L430.5,447.17 L431,447.17 L431.5,447.18 L432,447.18 L432.5,447.19 L433,447.19 L433.5,447.19 L434,447.2 L434.5,447.2 L435,447.2 L435.5,447.21 L436,447.21 L436.5,447.22 L437,447.22 L437.5,447.22 L438,447.23 L438.5,447.23 L439,447.23 L439.5,447.24 L440,447.24 L440.5,447.25 L441,447.25 L441.5,447.25 L442,447.26 L442.5,447.26 L443,447.26 L443.5,447.27 L444,447.27 L444.5,447.28 L445,447.28 L445.5,447.28 L446,447.29 L446.5,447.29 L447,447.29 L447.5,447.3 L448,447.3 L448.5,447.3 L449,447.31 L449.5,447.31 L450,447.31 L450.5,447.32 L451,447.32 L451.5,447.33 L452,447.33 L452.5,447.33 L453,447.34 L453.5,447.34 L454,447.34 L454.5,447.34 L455,447.35 L455.5,447.35 L456,447.35 L456.5,447.36 L457,447.36 L457.5,447.36 L458,447.37 L458.5,447.37 L459,447.37 L459.5,447.37 L460,447.38 L460.5,447.38 L461,447.38 L461.5,447.38 L462,447.38 L462.5,447.39 L463,447.39 L463.5,447.39 L464,447.39 L464.5,447.39 L465,447.39 L465.5,447.39 L466,447.39 L466.5,447.39 L467,447.39 L467.5,447.39 L468,447.39 L468.5,447.39 L469,447.39 L469.5,447.39 L470,447.39 L470.5,447.39 L471,447.38 L471.5,447.38 L472,447.38 L472.5,447.38 L473,447.37 L473.5,447.37 L474,447.36 L474.5,447.36 L475,447.35 L475.5,447.35 L476,447.34 L476.5,447.33 L477,447.33 L477.5,447.32 L478,447.31 L478.5,447.3 L479,447.29 L479.5,447.28 L480,447.27 L480.5,447.26 L481,447.25 L481.5,447.23 L482,447.22 L482.5,447.21 L483,447.19 L483.5,447.18 L484,447.16 L484.5,447.15 L485,447.13 L485.5,447.11 L486,447.09 L486.5,447.07 L487,447.06 L487.5,447.04 L488,447.01 L488.5,446.99 L489,446.97 L489.5,446.95 L490,446.93 L490.5,446.9 L491,446.88 L491.5,446.85 L492,446.83 L492.5,446.8 L493,446.78 L493.5,446.75 L494,446.72 L494.5,446.7 L495,446.67 L495.5,446.64 L496,446.61 L496.5,446.58 L497,446.55 L497.5,446.52 L498,446.49 L498.5,446.46 L499,446.43 L499.5,446.4 L500,446.37 L500.5,446.34 L501,446.31 L501.5,446.28 L502,446.25 L502.5,446.22 L503,446.19 L503.5,446.16 L504,446.13 L504.5,446.1 L505,446.06 L505.5,446.03 L506,446 L506.5,445.97 L507,445.94 L507.5,445.91 L508,445.87 L508.5,445.84 L509,445.81 L509.5,445.78 L510,445.74 L510.5,445.71 L511,445.68 L511.5,445.64 L512,445.61 L512.5,445.57 L513,445.53 L513.5,445.5 L514,445.46 L514.5,445.42 L515,445.38 L515.5,445.33 L516,445.29 L516.5,445.24 L517,445.2 L517.5,445.15 L518,445.1 L518.5,445.05 L519,444.99 L519.5,444.93 L520,444.87 L520.5,444.81 L521,444.75 L521.5,444.68 L522,444.61 L522.5,444.54 L523,444.46 L523.5,444.38 L524,444.3 L524.5,444.21 L525,444.12 L525.5,444.03 L526,443.93 L526.5,443.83 L527,443.73 L527.5,443.62 L528,443.51 L528.5,443.39 L529,443.27 L529.5,443.15 L530,443.02 L530.5,442.89 L531,442.76 L531.5,442.62 L532,442.48 L532.5,442.34 L533,442.19 L533.5,442.05 L534,441.89 L534.5,441.74 L535,441.59 L535.5,441.43 L536,441.27 L536.5,441.11 L537,440.95 L537.5,440.78 L538,440.62 L538.5,440.46 L539,440.3 L539.5,440.13 L540,439.97 L540.5,439.81 L541,439.66 L541.5,439.5 L542,439.35 L542.5,439.2 L543,439.05 L543.5,438.91 L544,438.77 L544.5,438.64 L545,438.51 L545.5,438.38 L546,438.27 L546.5,438.15 L547,438.04 L547.5,437.94 L548,437.84 L548.5,437.75 L549,437.66 L549.5,437.58 L550,437.51 L550.5,437.43 L551,437.37 L551.5,437.3 L552,437.24 L552.5,437.18 L553,437.11 L553.5,437.05 L554,436.98 L554.5,436.91 L555,436.84 L555.5,436.75 L556,436.66 L556.5,436.55 L557,436.43 L557.5,436.29 L558,436.13 L558.5,435.96 L559,435.76 L559.5,435.53 L560,435.28 L560.5,435 L561,434.69 L561.5,434.34 L562,433.95 L562.5,433.53 L563,433.05 L563.5,432.53 L564,431.97 L564.5,431.35 L565,430.68 L565.5,429.97 L566,429.19 L566.5,428.37 L567,427.5 L567.5,426.58 L568,425.61 L568.5,424.59 L569,423.53 L569.5,422.44 L570,421.31 L570.5,420.15 L571,418.97 L571.5,417.78 L572,416.57 L572.5,415.36 L573,414.16 L573.5,412.97 L574,411.8 L574.5,410.67 L575,409.57 L575.5,408.51 L576,407.52 L576.5,406.58 L577,405.72 L577.5,404.94 L578,404.24 L578.5,403.64 L579,403.13 L579.5,402.73 L580,402.43 L580.5,402.25 L581,402.18 L581.5,402.22 L582,402.38 L582.5,402.66 L583,403.04 L583.5,403.54 L584,404.14 L584.5,404.85 L585,405.65 L585.5,406.54 L586,407.49 L586.5,408.5 L587,409.58 L587.5,410.7 L588,411.87 L588.5,413.08 L589,414.31 L589.5,415.58 L590,416.86 L590.5,418.15 L591,419.44 L591.5,420.74 L592,422.03 L592.5,423.32 L593,424.59 L593.5,425.84 L594,427.07 L594.5,428.27 L595,429.44 L595.5,430.59 L596,431.7 L596.5,432.77 L597,433.8 L597.5,434.8 L598,435.76 L598.5,436.67 L599,437.54 L599.5,438.37 L600,439.16 L600.5,439.91 L601,440.61 L601.5,441.27 L602,441.9 L602.5,442.48 L603,443.02 L603.5,443.53 L604,444 L604.5,444.44 L605,444.84 L605.5,445.21 L606,445.55 L606.5,445.86 L607,446.15 L607.5,446.41 L608,446.65 L608.5,446.86 L609,447.06 L609.5,447.23 L610,447.39 L610.5,447.53 L611,447.66 L611.5,447.77 L612,447.87 L612.5,447.96 L613,448.04 L613.5,448.11 L614,448.18 L614.5,448.23 L615,448.28 L615.5,448.32 L616,448.36 L616.5,448.39 L617,448.42 L617.5,448.45 L618,448.47 L618.5,448.49 L619,448.51 L619.5,448.53 L620,448.54 L620.5,448.55 L621,448.56 L621.5,448.57 L622,448.58 L622.5,448.59 L623,448.6 L623.5,448.6 L624,448.61 L624.5,448.62 L625,448.62 L625.5,448.63 L626,448.63 L626.5,448.64 L627,448.64 L627.5,448.64 L628,448.65 L628.5,448.65 L629,448.66 L629.5,448.66 L630,448.67 L630.5,448.67 L631,448.67 L631.5,448.68 L632,448.68 L632.5,448.68 L633,448.69 L633.5,448.69 L634,448.7 L634.5,448.7 L635,448.7 L635.5,448.71 L636,448.71 L636.5,448.72 L637,448.72 L637.5,448.72 L638,448.73 L638.5,448.73 L639,448.73 L639.5,448.74 L640,448.74 L640.5,448.75 L641,448.75 L641.5,448.75 L642,448.76 L642.5,448.76 L643,448.76 L643.5,448.77 L644,448.77 L644.5,448.78 L645,448.78 L645.5,448.78 L646,448.79 L646.5,448.79 L647,448.79 L647.5,448.8 L648,448.8 L648.5,448.81 L649,448.81 L649.5,448.81 L650,448.82 L650.5,448.82 L651,448.82 L651.5,448.83 L652,448.83 L652.5,448.84 L653,448.84 L653.5,448.84 L654,448.85 L654.5,448.85 L655,448.85 L655.5,448.86 L656,448.86 L656.5,448.87 L657,448.87 L657.5,448.87 L658,448.88 L658.5,448.88 L659,448.88 L659.5,448.89 L660,448.89 L660.5,448.9 L661,448.9 L661.5,448.9 L662,448.91 L662.5,448.91 L663,448.91 L663.5,448.92 L664,448.92 L664.5,448.93 L665,448.93 L665.5,448.93 L666,448.94 L666.5,448.94 L667,448.94 L667.5,448.95 L668,448.95 L668.5,448.96 L669,448.96 L669.5,448.96 L670,448.97 L670.5,448.97 L671,448.97 L671.5,448.98 L672,448.98 L672.5,448.99 L673,448.99 L673.5,448.99 L674,449 L674.5,449" fill="none" stroke="#ff0000" stroke-width="2.4" stroke-linejoin="round" stroke-linecap="round" />
</g>
<rect x="421" y="266.9" width="253.5" height="187.7" fill="none" stroke="#000" stroke-width="1.8"/>
<path d="M421,316.2 L674.5,318.7" fill="none" stroke="#8000ff" stroke-width="2.5" stroke-linejoin="round" stroke-linecap="butt" />
<path d="M421,381.5 L674.5,383.6" fill="none" stroke="#8000ff" stroke-width="2.5" stroke-linejoin="round" stroke-linecap="butt" />
<path d="M421,446.8 L674.5,450" fill="none" stroke="#8000ff" stroke-width="2.5" stroke-linejoin="round" stroke-linecap="butt" />
<g clip-path="url(#cd)"><rect x="422.35" y="315.58" width="1.3" height="1.3" fill="#000"/><rect x="425.59" y="316.44" width="1.3" height="1.3" fill="#000"/><rect x="427.91" y="314.86" width="1.3" height="1.3" fill="#000"/><rect x="430.2" y="315.66" width="1.3" height="1.3" fill="#000"/><rect x="433.21" y="317.05" width="1.3" height="1.3" fill="#000"/><rect x="435.52" y="316.2" width="1.3" height="1.3" fill="#000"/><rect x="437.87" y="314.1" width="1.3" height="1.3" fill="#000"/><rect x="440.27" y="316.88" width="1.3" height="1.3" fill="#000"/><rect x="442.82" y="314.1" width="1.3" height="1.3" fill="#000"/><rect x="445.95" y="314.05" width="1.3" height="1.3" fill="#000"/><rect x="448.78" y="316.32" width="1.3" height="1.3" fill="#000"/><rect x="452.36" y="315.95" width="1.3" height="1.3" fill="#000"/><rect x="455.02" y="316.35" width="1.3" height="1.3" fill="#000"/><rect x="457.71" y="316.45" width="1.3" height="1.3" fill="#000"/><rect x="461.22" y="316.64" width="1.3" height="1.3" fill="#000"/><rect x="464.44" y="317.35" width="1.3" height="1.3" fill="#000"/><rect x="467.24" y="315.66" width="1.3" height="1.3" fill="#000"/><rect x="469.53" y="315.92" width="1.3" height="1.3" fill="#000"/><rect x="472.06" y="315.54" width="1.3" height="1.3" fill="#000"/><rect x="474.76" y="314.97" width="1.3" height="1.3" fill="#000"/><rect x="477.9" y="315.1" width="1.3" height="1.3" fill="#000"/><rect x="481.37" y="316.22" width="1.3" height="1.3" fill="#000"/><rect x="484.69" y="315.95" width="1.3" height="1.3" fill="#000"/><rect x="487.73" y="317.27" width="1.3" height="1.3" fill="#000"/><rect x="491.33" y="315.63" width="1.3" height="1.3" fill="#000"/><rect x="495.1" y="314.74" width="1.3" height="1.3" fill="#000"/><rect x="497.49" y="313.95" width="1.3" height="1.3" fill="#000"/><rect x="499.93" y="316.4" width="1.3" height="1.3" fill="#000"/><rect x="502.91" y="316.98" width="1.3" height="1.3" fill="#000"/><rect x="506.34" y="315.7" width="1.3" height="1.3" fill="#000"/><rect x="509.45" y="315.9" width="1.3" height="1.3" fill="#000"/><rect x="512.77" y="314.46" width="1.3" height="1.3" fill="#000"/><rect x="515.92" y="313.97" width="1.3" height="1.3" fill="#000"/><rect x="519.46" y="314.29" width="1.3" height="1.3" fill="#000"/><rect x="523.17" y="313.03" width="1.3" height="1.3" fill="#000"/><rect x="525.47" y="314.69" width="1.3" height="1.3" fill="#000"/><rect x="528.79" y="311.93" width="1.3" height="1.3" fill="#000"/><rect x="532.31" y="310.65" width="1.3" height="1.3" fill="#000"/><rect x="534.96" y="311.64" width="1.3" height="1.3" fill="#000"/><rect x="537.2" y="313.41" width="1.3" height="1.3" fill="#000"/><rect x="540.14" y="311.83" width="1.3" height="1.3" fill="#000"/><rect x="542.43" y="311.4" width="1.3" height="1.3" fill="#000"/><rect x="545.86" y="310.56" width="1.3" height="1.3" fill="#000"/><rect x="548.69" y="309.9" width="1.3" height="1.3" fill="#000"/><rect x="552.28" y="309.62" width="1.3" height="1.3" fill="#000"/><rect x="555.36" y="308.64" width="1.3" height="1.3" fill="#000"/><rect x="558.97" y="308.33" width="1.3" height="1.3" fill="#000"/><rect x="561.62" y="304.56" width="1.3" height="1.3" fill="#000"/><rect x="564.48" y="303.41" width="1.3" height="1.3" fill="#000"/><rect x="568.22" y="302.55" width="1.3" height="1.3" fill="#000"/><rect x="570.66" y="297.2" width="1.3" height="1.3" fill="#000"/><rect x="573.23" y="292.57" width="1.3" height="1.3" fill="#000"/><rect x="576.21" y="285.07" width="1.3" height="1.3" fill="#000"/><rect x="578.41" y="281.34" width="1.3" height="1.3" fill="#000"/><rect x="581.28" y="277.16" width="1.3" height="1.3" fill="#000"/><rect x="585.01" y="278.2" width="1.3" height="1.3" fill="#000"/><rect x="588.31" y="278.74" width="1.3" height="1.3" fill="#000"/><rect x="591.59" y="285.99" width="1.3" height="1.3" fill="#000"/><rect x="593.88" y="292.65" width="1.3" height="1.3" fill="#000"/><rect x="597.48" y="297.99" width="1.3" height="1.3" fill="#000"/><rect x="600.96" y="305" width="1.3" height="1.3" fill="#000"/><rect x="603.32" y="310.15" width="1.3" height="1.3" fill="#000"/><rect x="606.54" y="313.28" width="1.3" height="1.3" fill="#000"/><rect x="609.07" y="314.76" width="1.3" height="1.3" fill="#000"/><rect x="611.53" y="315.43" width="1.3" height="1.3" fill="#000"/><rect x="613.73" y="316.46" width="1.3" height="1.3" fill="#000"/><rect x="616.17" y="317.33" width="1.3" height="1.3" fill="#000"/><rect x="618.41" y="317.27" width="1.3" height="1.3" fill="#000"/><rect x="622.01" y="316.3" width="1.3" height="1.3" fill="#000"/><rect x="624.62" y="316.39" width="1.3" height="1.3" fill="#000"/><rect x="627.37" y="316.45" width="1.3" height="1.3" fill="#000"/><rect x="630.93" y="317.27" width="1.3" height="1.3" fill="#000"/><rect x="634.72" y="315.63" width="1.3" height="1.3" fill="#000"/><rect x="637.06" y="317.14" width="1.3" height="1.3" fill="#000"/><rect x="639.42" y="316.41" width="1.3" height="1.3" fill="#000"/><rect x="642.95" y="317.62" width="1.3" height="1.3" fill="#000"/><rect x="645.41" y="319.59" width="1.3" height="1.3" fill="#000"/><rect x="648.45" y="317.32" width="1.3" height="1.3" fill="#000"/><rect x="650.89" y="316.69" width="1.3" height="1.3" fill="#000"/><rect x="653.93" y="316.89" width="1.3" height="1.3" fill="#000"/><rect x="657.7" y="318.08" width="1.3" height="1.3" fill="#000"/><rect x="660.31" y="315.7" width="1.3" height="1.3" fill="#000"/><rect x="663.1" y="317.94" width="1.3" height="1.3" fill="#000"/><rect x="666.15" y="318.65" width="1.3" height="1.3" fill="#000"/><rect x="669.6" y="316.65" width="1.3" height="1.3" fill="#000"/><rect x="422.35" y="381.84" width="1.3" height="1.3" fill="#000"/><rect x="426.13" y="382.37" width="1.3" height="1.3" fill="#000"/><rect x="429.64" y="379.59" width="1.3" height="1.3" fill="#000"/><rect x="433.02" y="381.38" width="1.3" height="1.3" fill="#000"/><rect x="435.79" y="382.51" width="1.3" height="1.3" fill="#000"/><rect x="438.03" y="382.08" width="1.3" height="1.3" fill="#000"/><rect x="440.65" y="381.37" width="1.3" height="1.3" fill="#000"/><rect x="443.96" y="382.38" width="1.3" height="1.3" fill="#000"/><rect x="447.66" y="380.91" width="1.3" height="1.3" fill="#000"/><rect x="451.44" y="382.25" width="1.3" height="1.3" fill="#000"/><rect x="453.99" y="380.96" width="1.3" height="1.3" fill="#000"/><rect x="456.55" y="381.5" width="1.3" height="1.3" fill="#000"/><rect x="459.75" y="381.96" width="1.3" height="1.3" fill="#000"/><rect x="463.39" y="381.94" width="1.3" height="1.3" fill="#000"/><rect x="466.64" y="380.2" width="1.3" height="1.3" fill="#000"/><rect x="470.12" y="382.64" width="1.3" height="1.3" fill="#000"/><rect x="473.77" y="382.05" width="1.3" height="1.3" fill="#000"/><rect x="477.22" y="381.19" width="1.3" height="1.3" fill="#000"/><rect x="479.71" y="379.89" width="1.3" height="1.3" fill="#000"/><rect x="483.17" y="380.1" width="1.3" height="1.3" fill="#000"/><rect x="486.93" y="382.7" width="1.3" height="1.3" fill="#000"/><rect x="489.76" y="378.73" width="1.3" height="1.3" fill="#000"/><rect x="493.12" y="382.32" width="1.3" height="1.3" fill="#000"/><rect x="495.59" y="381.12" width="1.3" height="1.3" fill="#000"/><rect x="499.24" y="380.99" width="1.3" height="1.3" fill="#000"/><rect x="502.73" y="381.65" width="1.3" height="1.3" fill="#000"/><rect x="506.5" y="381.89" width="1.3" height="1.3" fill="#000"/><rect x="509.75" y="379.31" width="1.3" height="1.3" fill="#000"/><rect x="512.16" y="381.15" width="1.3" height="1.3" fill="#000"/><rect x="514.38" y="381.5" width="1.3" height="1.3" fill="#000"/><rect x="517.42" y="379.47" width="1.3" height="1.3" fill="#000"/><rect x="521.12" y="377.45" width="1.3" height="1.3" fill="#000"/><rect x="524.64" y="380" width="1.3" height="1.3" fill="#000"/><rect x="527.18" y="378.72" width="1.3" height="1.3" fill="#000"/><rect x="529.76" y="379.17" width="1.3" height="1.3" fill="#000"/><rect x="532.9" y="377.49" width="1.3" height="1.3" fill="#000"/><rect x="535.31" y="378.07" width="1.3" height="1.3" fill="#000"/><rect x="538.97" y="375.15" width="1.3" height="1.3" fill="#000"/><rect x="542.1" y="375.96" width="1.3" height="1.3" fill="#000"/><rect x="545.75" y="371.89" width="1.3" height="1.3" fill="#000"/><rect x="548.75" y="374.62" width="1.3" height="1.3" fill="#000"/><rect x="551.8" y="372.82" width="1.3" height="1.3" fill="#000"/><rect x="554.7" y="372.77" width="1.3" height="1.3" fill="#000"/><rect x="557.2" y="374.63" width="1.3" height="1.3" fill="#000"/><rect x="559.67" y="372.46" width="1.3" height="1.3" fill="#000"/><rect x="562.63" y="371.37" width="1.3" height="1.3" fill="#000"/><rect x="565.35" y="368.52" width="1.3" height="1.3" fill="#000"/><rect x="568.38" y="364.8" width="1.3" height="1.3" fill="#000"/><rect x="570.75" y="362.31" width="1.3" height="1.3" fill="#000"/><rect x="573.85" y="357.19" width="1.3" height="1.3" fill="#000"/><rect x="577.28" y="351.46" width="1.3" height="1.3" fill="#000"/><rect x="580.3" y="344.33" width="1.3" height="1.3" fill="#000"/><rect x="583.96" y="343.31" width="1.3" height="1.3" fill="#000"/><rect x="586.87" y="344.93" width="1.3" height="1.3" fill="#000"/><rect x="589.88" y="350.11" width="1.3" height="1.3" fill="#000"/><rect x="593.19" y="357.15" width="1.3" height="1.3" fill="#000"/><rect x="596.16" y="365.71" width="1.3" height="1.3" fill="#000"/><rect x="599.86" y="371.79" width="1.3" height="1.3" fill="#000"/><rect x="603.57" y="375.2" width="1.3" height="1.3" fill="#000"/><rect x="606.19" y="376.95" width="1.3" height="1.3" fill="#000"/><rect x="609.73" y="379.92" width="1.3" height="1.3" fill="#000"/><rect x="612.15" y="382.22" width="1.3" height="1.3" fill="#000"/><rect x="614.47" y="382.41" width="1.3" height="1.3" fill="#000"/><rect x="617.05" y="383.17" width="1.3" height="1.3" fill="#000"/><rect x="620.51" y="382.49" width="1.3" height="1.3" fill="#000"/><rect x="624.14" y="382.78" width="1.3" height="1.3" fill="#000"/><rect x="627.4" y="383.24" width="1.3" height="1.3" fill="#000"/><rect x="629.83" y="383.95" width="1.3" height="1.3" fill="#000"/><rect x="632.38" y="379.89" width="1.3" height="1.3" fill="#000"/><rect x="636.1" y="380.81" width="1.3" height="1.3" fill="#000"/><rect x="639.89" y="382.6" width="1.3" height="1.3" fill="#000"/><rect x="643.42" y="382.47" width="1.3" height="1.3" fill="#000"/><rect x="646.44" y="382.86" width="1.3" height="1.3" fill="#000"/><rect x="649.19" y="382.19" width="1.3" height="1.3" fill="#000"/><rect x="652.54" y="382.79" width="1.3" height="1.3" fill="#000"/><rect x="654.77" y="380.77" width="1.3" height="1.3" fill="#000"/><rect x="657" y="381.5" width="1.3" height="1.3" fill="#000"/><rect x="659.73" y="380.97" width="1.3" height="1.3" fill="#000"/><rect x="662.03" y="380.99" width="1.3" height="1.3" fill="#000"/><rect x="665.81" y="382.63" width="1.3" height="1.3" fill="#000"/><rect x="668.18" y="379.08" width="1.3" height="1.3" fill="#000"/><rect x="670.8" y="383.79" width="1.3" height="1.3" fill="#000"/><rect x="422.35" y="446.94" width="1.3" height="1.3" fill="#000"/><rect x="424.76" y="444.34" width="1.3" height="1.3" fill="#000"/><rect x="428.27" y="447.65" width="1.3" height="1.3" fill="#000"/><rect x="430.88" y="447.99" width="1.3" height="1.3" fill="#000"/><rect x="433.99" y="448.54" width="1.3" height="1.3" fill="#000"/><rect x="437.32" y="446.9" width="1.3" height="1.3" fill="#000"/><rect x="440.62" y="446.8" width="1.3" height="1.3" fill="#000"/><rect x="443.5" y="448.96" width="1.3" height="1.3" fill="#000"/><rect x="446.71" y="447.79" width="1.3" height="1.3" fill="#000"/><rect x="450.19" y="448.54" width="1.3" height="1.3" fill="#000"/><rect x="452.5" y="447.77" width="1.3" height="1.3" fill="#000"/><rect x="456.08" y="445.75" width="1.3" height="1.3" fill="#000"/><rect x="459.17" y="447.01" width="1.3" height="1.3" fill="#000"/><rect x="462.85" y="446.67" width="1.3" height="1.3" fill="#000"/><rect x="465.89" y="447.32" width="1.3" height="1.3" fill="#000"/><rect x="468.47" y="447.25" width="1.3" height="1.3" fill="#000"/><rect x="470.75" y="447.15" width="1.3" height="1.3" fill="#000"/><rect x="473.28" y="446.36" width="1.3" height="1.3" fill="#000"/><rect x="476.69" y="447.54" width="1.3" height="1.3" fill="#000"/><rect x="479.36" y="445.93" width="1.3" height="1.3" fill="#000"/><rect x="482.11" y="446.55" width="1.3" height="1.3" fill="#000"/><rect x="484.34" y="446.48" width="1.3" height="1.3" fill="#000"/><rect x="487.71" y="446.54" width="1.3" height="1.3" fill="#000"/><rect x="490.8" y="446.67" width="1.3" height="1.3" fill="#000"/><rect x="494.49" y="447.17" width="1.3" height="1.3" fill="#000"/><rect x="496.86" y="446.36" width="1.3" height="1.3" fill="#000"/><rect x="499.85" y="444.63" width="1.3" height="1.3" fill="#000"/><rect x="503.39" y="444.45" width="1.3" height="1.3" fill="#000"/><rect x="506.69" y="446.08" width="1.3" height="1.3" fill="#000"/><rect x="510.46" y="443.88" width="1.3" height="1.3" fill="#000"/><rect x="513.79" y="446.51" width="1.3" height="1.3" fill="#000"/><rect x="517.01" y="443.64" width="1.3" height="1.3" fill="#000"/><rect x="519.3" y="444.8" width="1.3" height="1.3" fill="#000"/><rect x="521.7" y="445.54" width="1.3" height="1.3" fill="#000"/><rect x="524.31" y="444.26" width="1.3" height="1.3" fill="#000"/><rect x="526.77" y="444.81" width="1.3" height="1.3" fill="#000"/><rect x="530.37" y="443.17" width="1.3" height="1.3" fill="#000"/><rect x="533.64" y="440.99" width="1.3" height="1.3" fill="#000"/><rect x="536.31" y="441.11" width="1.3" height="1.3" fill="#000"/><rect x="539.24" y="440.01" width="1.3" height="1.3" fill="#000"/><rect x="541.86" y="439.55" width="1.3" height="1.3" fill="#000"/><rect x="545.6" y="438.92" width="1.3" height="1.3" fill="#000"/><rect x="548.19" y="436.8" width="1.3" height="1.3" fill="#000"/><rect x="551.94" y="436.14" width="1.3" height="1.3" fill="#000"/><rect x="554.14" y="437.18" width="1.3" height="1.3" fill="#000"/><rect x="556.95" y="434.33" width="1.3" height="1.3" fill="#000"/><rect x="559.47" y="434.77" width="1.3" height="1.3" fill="#000"/><rect x="562.48" y="433.13" width="1.3" height="1.3" fill="#000"/><rect x="564.82" y="429.38" width="1.3" height="1.3" fill="#000"/><rect x="567.66" y="424.55" width="1.3" height="1.3" fill="#000"/><rect x="570.35" y="418.38" width="1.3" height="1.3" fill="#000"/><rect x="572.92" y="410.99" width="1.3" height="1.3" fill="#000"/><rect x="576.32" y="404.42" width="1.3" height="1.3" fill="#000"/><rect x="579.58" y="401.21" width="1.3" height="1.3" fill="#000"/><rect x="582.4" y="400.23" width="1.3" height="1.3" fill="#000"/><rect x="585.12" y="407.02" width="1.3" height="1.3" fill="#000"/><rect x="588.48" y="413.93" width="1.3" height="1.3" fill="#000"/><rect x="591.71" y="424.32" width="1.3" height="1.3" fill="#000"/><rect x="595.34" y="431.58" width="1.3" height="1.3" fill="#000"/><rect x="598.54" y="437.01" width="1.3" height="1.3" fill="#000"/><rect x="600.96" y="438.77" width="1.3" height="1.3" fill="#000"/><rect x="604" y="441.82" width="1.3" height="1.3" fill="#000"/><rect x="607.49" y="446" width="1.3" height="1.3" fill="#000"/><rect x="611.01" y="445.15" width="1.3" height="1.3" fill="#000"/><rect x="614.3" y="446.45" width="1.3" height="1.3" fill="#000"/><rect x="617.61" y="447.87" width="1.3" height="1.3" fill="#000"/><rect x="620.03" y="448.18" width="1.3" height="1.3" fill="#000"/><rect x="622.8" y="449.61" width="1.3" height="1.3" fill="#000"/><rect x="625.9" y="449.27" width="1.3" height="1.3" fill="#000"/><rect x="629.1" y="446.85" width="1.3" height="1.3" fill="#000"/><rect x="632.08" y="446.85" width="1.3" height="1.3" fill="#000"/><rect x="634.29" y="448.59" width="1.3" height="1.3" fill="#000"/><rect x="637.29" y="446.33" width="1.3" height="1.3" fill="#000"/><rect x="640.35" y="447.88" width="1.3" height="1.3" fill="#000"/><rect x="643.73" y="447.78" width="1.3" height="1.3" fill="#000"/><rect x="646.33" y="448.92" width="1.3" height="1.3" fill="#000"/><rect x="649.7" y="448.56" width="1.3" height="1.3" fill="#000"/><rect x="652.23" y="448" width="1.3" height="1.3" fill="#000"/><rect x="655.22" y="445.22" width="1.3" height="1.3" fill="#000"/><rect x="658.03" y="446.58" width="1.3" height="1.3" fill="#000"/><rect x="661.46" y="448.48" width="1.3" height="1.3" fill="#000"/><rect x="664.64" y="448.01" width="1.3" height="1.3" fill="#000"/><rect x="667.08" y="447.95" width="1.3" height="1.3" fill="#000"/><rect x="669.69" y="448.28" width="1.3" height="1.3" fill="#000"/></g>
<line x1="421" y1="454.6" x2="421" y2="460.2" stroke="#000" stroke-width="1.6" />
<text x="421" y="473.7" font-size="12.5" text-anchor="middle" fill="#000" font-weight="normal" >408</text>
<line x1="457.1" y1="454.6" x2="457.1" y2="460.2" stroke="#000" stroke-width="1.6" />
<text x="457.1" y="473.7" font-size="12.5" text-anchor="middle" fill="#000" font-weight="normal" >406</text>
<line x1="493.2" y1="454.6" x2="493.2" y2="460.2" stroke="#000" stroke-width="1.6" />
<text x="493.2" y="473.7" font-size="12.5" text-anchor="middle" fill="#000" font-weight="normal" >404</text>
<line x1="529.3" y1="454.6" x2="529.3" y2="460.2" stroke="#000" stroke-width="1.6" />
<text x="529.3" y="473.7" font-size="12.5" text-anchor="middle" fill="#000" font-weight="normal" >402</text>
<line x1="565.4" y1="454.6" x2="565.4" y2="460.2" stroke="#000" stroke-width="1.6" />
<text x="565.4" y="473.7" font-size="12.5" text-anchor="middle" fill="#000" font-weight="normal" >400</text>
<line x1="601.5" y1="454.6" x2="601.5" y2="460.2" stroke="#000" stroke-width="1.6" />
<text x="601.5" y="473.7" font-size="12.5" text-anchor="middle" fill="#000" font-weight="normal" >398</text>
<line x1="637.6" y1="454.6" x2="637.6" y2="460.2" stroke="#000" stroke-width="1.6" />
<text x="637.6" y="473.7" font-size="12.5" text-anchor="middle" fill="#000" font-weight="normal" >396</text>
<line x1="673.7" y1="454.6" x2="673.7" y2="460.2" stroke="#000" stroke-width="1.6" />
<text x="673.7" y="473.7" font-size="12.5" text-anchor="middle" fill="#000" font-weight="normal" >394</text>
<text x="547.8" y="491.5" font-size="12.5" text-anchor="middle" fill="#000" font-weight="normal" >Binding energy (eV)</text>
<text x="0" y="0" font-size="12.5" text-anchor="middle" fill="#000" font-weight="normal" transform="translate(413.5,356.9) rotate(-90)">Intensity (a.u.)</text>
<text x="426.2" y="279.9" font-size="11" text-anchor="start" fill="#000" font-weight="normal" >N1s</text>
<text x="423.3" y="306.8" font-size="12.5">25%N<tspan font-size="9.6" dy="4">2</tspan><tspan dy="-4">-75%H</tspan><tspan font-size="9.6" dy="4">2</tspan></text>
<text x="428.9" y="370.1" font-size="12.5">10%H<tspan font-size="9.6" dy="4">2</tspan><tspan dy="-4">/Ar</tspan></text>
<text x="429" y="440.8" font-size="12.5" text-anchor="start" fill="#000" font-weight="normal" >Fresh</text>
<text x="513.2" y="311.4" font-size="10.8" text-anchor="start" fill="#000" font-weight="normal" >N-O</text>
<text x="502.5" y="294.2" font-size="10.5" text-anchor="start" fill="#000" font-weight="normal" >Graphitic N</text>
<text x="529.7" y="281" font-size="10.5" text-anchor="start" fill="#000" font-weight="normal" >Pyrrolic N</text>
<text x="593.6" y="280.6" font-size="10.5" text-anchor="start" fill="#000" font-weight="normal" >Pyridinic N</text>
<line x1="552.7" y1="310.7" x2="535.82" y2="297.31" stroke="#ff00ff" stroke-width="1.4" stroke-dasharray="2.2 1.8"/>
<path d="M531.9,294.2 L537.31,295.43 L534.33,299.19 Z" fill="#ff00ff"/>
<line x1="572.8" y1="304.1" x2="564.28" y2="288.4" stroke="#ff00ff" stroke-width="1.4" stroke-dasharray="2.2 1.8"/>
<path d="M561.9,284 L566.39,287.25 L562.17,289.54 Z" fill="#ff00ff"/>
<line x1="586.9" y1="292.8" x2="608.17" y2="284.09" stroke="#ff00ff" stroke-width="1.4" stroke-dasharray="2.2 1.8"/>
<path d="M612.8,282.2 L609.08,286.32 L607.26,281.87 Z" fill="#ff00ff"/></svg></body></html>
